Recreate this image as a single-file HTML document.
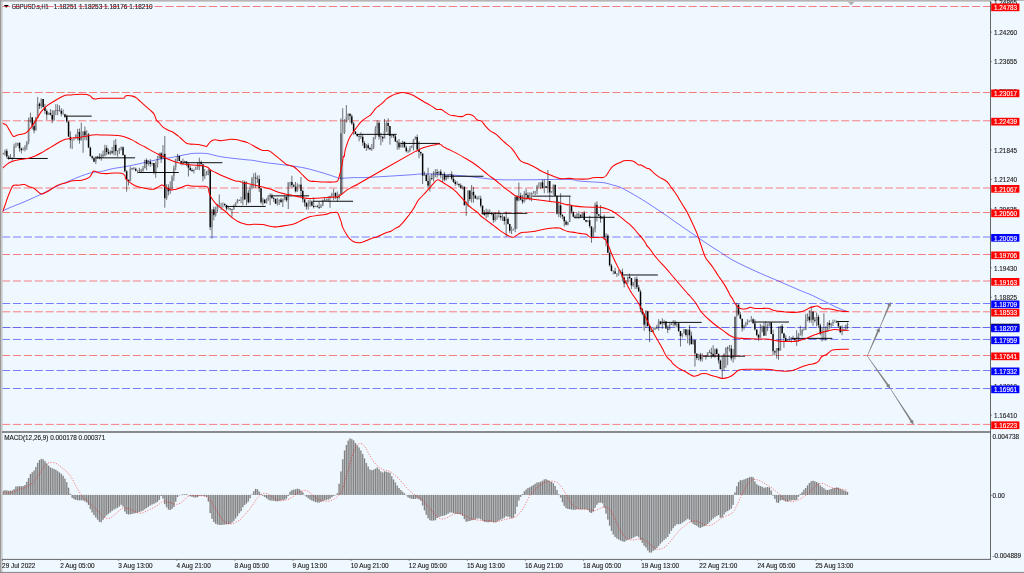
<!DOCTYPE html>
<html><head><meta charset="utf-8"><title>GBPUSD.s,H1</title>
<style>html,body{margin:0;padding:0;background:#f0f8ff;overflow:hidden}svg{display:block}</style>
</head><body>
<svg width="1024" height="573" viewBox="0 0 1024 573">
<rect x="0" y="0" width="1024" height="573" fill="#f0f8ff"/>
<path d="M3.8 4.9 L8.7 4.9 L6.25 7.8 Z" fill="#000"/>
<text x="11.7" y="8.70" font-family="Liberation Sans, Arial, sans-serif" font-size="6.5" fill="#1a1a1a" stroke="#1a1a1a" stroke-width="0.12" text-anchor="start" textLength="37" lengthAdjust="spacingAndGlyphs">GBPUSD.s,H1</text>
<text x="53.8" y="8.70" font-family="Liberation Sans, Arial, sans-serif" font-size="6.5" fill="#1a1a1a" stroke="#1a1a1a" stroke-width="0.12" text-anchor="start" textLength="98.8" lengthAdjust="spacingAndGlyphs">1.18251 1.18253 1.18176 1.18210</text>
<line x1="2.0" y1="327.45" x2="990.5" y2="327.45" stroke="#b0b0b0" stroke-width="0.5"/>
<line x1="2.0" y1="6.50" x2="990.5" y2="6.50" stroke="#ff0000" stroke-width="0.5" stroke-dasharray="8.174 2.725"/>
<line x1="2.0" y1="92.50" x2="990.5" y2="92.50" stroke="#ff0000" stroke-width="0.5" stroke-dasharray="8.174 2.725"/>
<line x1="2.0" y1="120.80" x2="990.5" y2="120.80" stroke="#ff0000" stroke-width="0.5" stroke-dasharray="8.174 2.725"/>
<line x1="2.0" y1="188.00" x2="990.5" y2="188.00" stroke="#ff0000" stroke-width="0.5" stroke-dasharray="8.174 2.725"/>
<line x1="2.0" y1="212.50" x2="990.5" y2="212.50" stroke="#ff0000" stroke-width="0.5" stroke-dasharray="8.174 2.725"/>
<line x1="2.0" y1="254.50" x2="990.5" y2="254.50" stroke="#ff0000" stroke-width="0.5" stroke-dasharray="8.174 2.725"/>
<line x1="2.0" y1="281.00" x2="990.5" y2="281.00" stroke="#ff0000" stroke-width="0.5" stroke-dasharray="8.174 2.725"/>
<line x1="2.0" y1="311.80" x2="990.5" y2="311.80" stroke="#ff0000" stroke-width="0.5" stroke-dasharray="8.174 2.725"/>
<line x1="2.0" y1="355.50" x2="990.5" y2="355.50" stroke="#ff0000" stroke-width="0.5" stroke-dasharray="8.174 2.725"/>
<line x1="2.0" y1="424.40" x2="990.5" y2="424.40" stroke="#ff0000" stroke-width="0.5" stroke-dasharray="8.174 2.725"/>
<line x1="2.0" y1="237.00" x2="990.5" y2="237.00" stroke="#0000ff" stroke-width="0.5" stroke-dasharray="8.174 2.725"/>
<line x1="2.0" y1="303.50" x2="990.5" y2="303.50" stroke="#0000ff" stroke-width="0.5" stroke-dasharray="8.174 2.725"/>
<line x1="2.0" y1="327.50" x2="990.5" y2="327.50" stroke="#0000ff" stroke-width="0.5" stroke-dasharray="8.174 2.725"/>
<line x1="2.0" y1="339.45" x2="990.5" y2="339.45" stroke="#0000ff" stroke-width="0.5" stroke-dasharray="8.174 2.725"/>
<line x1="2.0" y1="370.50" x2="990.5" y2="370.50" stroke="#0000ff" stroke-width="0.5" stroke-dasharray="8.174 2.725"/>
<line x1="2.0" y1="388.50" x2="990.5" y2="388.50" stroke="#0000ff" stroke-width="0.5" stroke-dasharray="8.174 2.725"/>
<path d="M2.51 210.93C4.19 210.20 8.79 208.10 12.56 206.53C16.33 204.96 20.94 203.29 25.13 201.51C29.31 199.73 33.50 197.84 37.69 195.85C41.88 193.87 46.90 191.25 50.25 189.57C53.60 187.90 55.28 186.96 57.79 185.80C60.30 184.65 62.40 183.92 65.33 182.66C68.26 181.41 72.03 179.63 75.38 178.27C78.73 176.91 82.50 175.48 85.43 174.50C88.36 173.51 90.45 172.84 92.96 172.36C95.48 171.88 97.15 172.24 100.50 171.61C103.85 170.98 109.82 169.28 113.07 168.59C116.31 167.91 116.75 168.05 120.00 167.49C123.25 166.93 128.38 166.06 132.56 165.23C136.75 164.39 140.94 163.40 145.13 162.46C149.31 161.52 153.50 160.37 157.69 159.57C161.88 158.78 167.11 158.21 170.25 157.69C173.39 157.16 174.44 156.85 176.53 156.43C178.63 156.01 180.72 155.59 182.81 155.18C184.91 154.76 187.00 154.23 189.10 153.92C191.19 153.61 192.65 153.38 195.38 153.29C198.10 153.21 202.91 153.25 205.43 153.42C207.94 153.58 207.94 153.75 210.45 154.30C212.96 154.84 216.73 156.01 220.50 156.68C224.27 157.35 228.48 157.77 233.07 158.32C237.65 158.86 244.77 159.62 248.02 159.95C251.26 160.28 249.71 159.87 252.56 160.30C255.41 160.74 260.94 161.93 265.13 162.56C269.31 163.19 273.50 163.55 277.69 164.07C281.88 164.59 286.06 165.12 290.25 165.70C294.44 166.29 298.63 166.75 302.81 167.59C307.00 168.43 311.19 169.58 315.38 170.73C319.56 171.88 324.59 173.45 327.94 174.50C331.29 175.54 333.38 176.38 335.48 177.01C337.57 177.64 337.57 178.16 340.50 178.27C343.43 178.37 348.48 177.78 353.07 177.64C357.65 177.49 358.53 177.85 368.02 177.39C377.50 176.93 401.33 175.44 410.00 174.87C418.67 174.31 416.91 174.14 420.05 173.99C423.19 173.85 425.52 173.93 428.84 173.99C432.17 174.06 436.05 174.23 440.00 174.40C443.95 174.57 448.38 174.75 452.56 175.03C456.75 175.30 460.94 175.61 465.13 176.03C469.31 176.45 473.50 177.04 477.69 177.54C481.88 178.04 486.06 178.67 490.25 179.05C494.44 179.42 496.53 179.67 502.81 179.80C509.10 179.92 517.07 179.86 527.94 179.80C538.81 179.74 559.53 179.22 568.02 179.42C576.50 179.62 574.95 180.59 578.84 181.01C582.74 181.42 587.22 181.59 591.41 181.88C595.59 182.18 600.41 182.24 603.97 182.76C607.53 183.29 610.04 184.27 612.76 185.03C615.49 185.78 617.58 186.13 620.30 187.29C623.02 188.44 626.16 190.32 629.10 191.93C632.03 193.55 634.75 195.08 637.89 196.96C641.03 198.84 644.59 201.08 647.94 203.24C651.29 205.40 654.85 207.81 657.99 209.90C661.13 211.99 663.85 213.77 666.78 215.80C669.72 217.84 672.04 219.61 675.58 222.09C679.12 224.56 684.27 228.05 688.02 230.63C691.76 233.20 694.69 235.23 698.04 237.54C701.39 239.84 704.76 242.25 708.09 244.45C711.42 246.65 715.59 249.16 718.02 250.73C720.44 252.29 720.21 252.28 722.66 253.84C725.11 255.41 728.94 258.03 732.71 260.13C736.48 262.22 740.67 264.21 745.28 266.41C749.88 268.61 754.91 270.91 760.35 273.32C765.80 275.72 771.87 278.24 777.94 280.85C784.01 283.47 793.26 287.50 796.78 289.02C800.31 290.54 797.64 289.42 799.07 290.00C800.50 290.58 803.05 291.57 805.35 292.51C807.65 293.45 810.38 294.50 812.89 295.65C815.40 296.80 817.91 298.21 820.43 299.42C822.94 300.64 825.45 301.68 827.96 302.94C830.48 304.20 833.20 305.87 835.50 306.96C837.81 308.05 839.90 308.74 841.78 309.47C843.67 310.21 845.97 311.04 846.81 311.36" fill="none" stroke="#0000ff" stroke-width="0.6" stroke-opacity="0.85"/>
<line x1="7.54" y1="158.47" x2="47.74" y2="158.47" stroke="#000" stroke-width="0.95"/>
<line x1="64.07" y1="116.13" x2="91.71" y2="116.13" stroke="#000" stroke-width="0.95"/>
<line x1="95.48" y1="157.84" x2="135.05" y2="157.84" stroke="#000" stroke-width="0.95"/>
<line x1="138.22" y1="172.51" x2="178.79" y2="172.51" stroke="#000" stroke-width="0.95"/>
<line x1="182.81" y1="162.71" x2="222.39" y2="162.71" stroke="#000" stroke-width="0.95"/>
<line x1="225.53" y1="206.43" x2="265.73" y2="206.43" stroke="#000" stroke-width="0.95"/>
<line x1="269.52" y1="195.85" x2="309.10" y2="195.85" stroke="#000" stroke-width="0.95"/>
<line x1="312.86" y1="201.26" x2="353.07" y2="201.26" stroke="#000" stroke-width="0.95"/>
<line x1="356.43" y1="134.37" x2="396.63" y2="134.37" stroke="#000" stroke-width="0.95"/>
<line x1="400.40" y1="143.42" x2="439.97" y2="143.42" stroke="#000" stroke-width="0.95"/>
<line x1="443.92" y1="176.26" x2="483.49" y2="176.26" stroke="#000" stroke-width="0.95"/>
<line x1="481.46" y1="213.34" x2="527.31" y2="213.34" stroke="#000" stroke-width="0.95"/>
<line x1="532.34" y1="196.13" x2="570.65" y2="196.13" stroke="#000" stroke-width="0.95"/>
<line x1="573.82" y1="217.31" x2="614.65" y2="217.31" stroke="#000" stroke-width="0.95"/>
<line x1="622.66" y1="274.97" x2="657.84" y2="274.97" stroke="#000" stroke-width="0.95"/>
<line x1="661.46" y1="322.39" x2="701.66" y2="322.39" stroke="#000" stroke-width="0.95"/>
<line x1="702.91" y1="356.18" x2="745.00" y2="356.18" stroke="#000" stroke-width="0.95"/>
<line x1="753.84" y1="322.04" x2="789.02" y2="322.04" stroke="#000" stroke-width="0.95"/>
<line x1="791.53" y1="338.37" x2="832.36" y2="338.37" stroke="#000" stroke-width="0.95"/>
<line x1="836.51" y1="321.53" x2="848.82" y2="321.53" stroke="#000" stroke-width="0.95"/>
<rect x="340.32" y="133.37" width="2.9" height="60.93" fill="#000" fill-opacity="0.3"/>
<rect x="514.63" y="196.38" width="2.9" height="32.66" fill="#000" fill-opacity="0.3"/>
<rect x="734.33" y="316.81" width="2.9" height="38.32" fill="#000" fill-opacity="0.3"/>
<path d="M3.20 152.84V153.44M3.20 153.94V154.66M5.02 149.40V150.72M5.02 153.69V155.89M6.83 148.77V150.72M6.83 156.38V158.39M8.65 155.40V156.38M8.65 157.66V159.77M10.46 154.09V157.66M10.46 158.42V158.50M12.28 158.42V160.79M14.09 143.67V146.53M14.09 157.28V157.92M15.91 142.43V145.42M15.91 146.53V147.85M17.73 145.42V146.21M19.54 142.55V142.87M19.54 148.46V151.67M21.36 147.55V148.46M21.36 150.21V153.36M23.17 147.45V149.76M23.17 150.26V150.61M24.99 145.04V146.73M24.99 149.81V151.35M26.80 140.99V142.37M26.80 146.73V149.86M28.62 117.59V119.72M28.62 142.37V144.30M32.25 117.24V117.32M32.25 126.09V129.39M35.88 116.83V117.54M35.88 130.59V130.65M39.51 102.33V103.39M39.51 106.26V109.06M41.33 98.37V98.98M41.33 106.26V108.59M44.96 103.86V106.97M44.96 111.06V113.93M46.78 109.33V111.06M46.78 114.67V119.92M48.59 112.36V112.70M48.59 114.67V114.82M50.41 109.12V112.70M50.41 114.65V115.60M54.04 110.29V110.46M54.04 119.66V121.02M59.49 105.48V110.36M59.49 110.86V111.61M61.30 108.17V110.66M61.30 113.66V116.40M63.12 109.48V113.64M63.12 114.14V114.37M64.93 113.71V114.13M64.93 116.51V117.90M66.75 114.67V116.51M66.75 121.51V122.89M68.57 121.34V121.51M74.01 137.51V138.48M74.01 139.26V140.71M75.83 134.55V134.61M75.83 138.48V138.58M79.46 128.44V131.77M79.46 140.60V143.73M88.54 132.89V134.33M88.54 147.46V148.16M90.35 146.58V147.46M90.35 156.25V156.53M92.17 155.42V156.25M92.17 158.04V159.45M93.99 156.64V158.04M93.99 161.67V162.27M95.80 156.35V156.59M95.80 161.67V164.05M97.62 155.87V156.59M97.62 157.27V159.07M99.43 153.27V157.27M99.43 158.13V159.26M101.25 153.58V154.65M101.25 158.13V160.74M103.06 150.58V154.65M103.06 155.50V157.96M104.88 144.72V147.76M104.88 155.50V156.47M108.51 148.73V151.91M108.51 153.63V154.64M110.33 150.36V151.37M110.33 153.63V154.92M112.14 147.01V151.37M112.14 152.86V154.24M117.59 150.37V150.74M117.59 151.24V156.70M119.40 147.71V147.90M119.40 151.09V154.00M121.22 146.56V147.37M121.22 147.90V150.32M123.04 146.41V147.37M123.04 155.07V155.81M124.85 154.35V155.07M124.85 171.13V172.29M128.48 179.22V180.03M128.48 181.23V185.51M130.30 166.59V168.78M132.11 167.78V168.62M132.11 169.12V170.13M133.93 167.07V168.61M133.93 169.11V170.10M135.75 167.51V168.76M135.75 170.80V171.60M137.56 170.25V170.39M137.56 170.89V173.48M139.38 167.80V170.33M139.38 170.83V173.00M141.19 168.91V170.67M141.19 171.17V172.25M143.01 165.96V167.89M143.01 171.15V171.44M144.82 159.55V159.93M144.82 167.89V168.50M148.46 160.18V161.84M148.46 163.92V165.60M150.27 159.11V161.84M150.27 164.10V167.00M152.09 162.67V163.01M152.09 164.10V165.65M153.90 172.36V174.38M157.53 156.10V158.46M157.53 164.22V167.53M159.35 152.71V153.22M159.35 158.46V158.53M161.17 152.15V153.22M161.17 158.78V162.90M166.61 184.28V187.63M166.61 198.27V199.92M168.43 184.33V187.63M168.43 191.21V195.43M172.06 175.23V176.61M172.06 188.25V190.26M173.88 165.56V167.53M173.88 176.61V180.94M175.69 158.61V159.12M175.69 167.53V170.37M179.32 155.41V155.95M179.32 161.05V161.23M181.14 160.76V161.05M181.14 163.83V165.25M182.95 158.58V161.11M182.95 163.83V165.22M184.77 160.57V160.92M184.77 161.42V162.40M186.59 163.41V166.25M190.22 165.47V167.68M190.22 169.96V171.00M192.03 168.24V169.96M192.03 170.91V171.90M193.85 169.34V169.79M193.85 170.91V173.59M195.66 166.84V168.53M195.66 169.79V169.90M197.48 162.35V167.25M197.48 168.53V169.76M201.11 160.66V162.11M201.11 164.32V164.55M202.93 164.23V164.32M202.93 176.21V181.30M206.56 171.03V173.36M206.56 175.12V175.44M208.37 169.05V170.00M208.37 173.36V175.22M210.19 169.86V170.00M210.19 227.16V230.13M215.64 206.73V209.39M215.64 215.24V216.69M217.45 203.88V205.02M217.45 209.39V212.78M221.08 202.82V204.29M221.08 204.80V209.88M222.90 202.29V203.69M222.90 204.29V207.72M224.72 203.52V203.69M224.72 204.90V206.31M226.53 204.79V204.90M226.53 208.81V210.48M228.35 206.14V208.37M228.35 208.87V209.57M230.16 207.89V208.43M230.16 209.31V210.62M233.79 204.44V205.51M233.79 209.47V209.82M235.61 202.07V203.15M235.61 205.51V206.37M237.43 198.92V200.01M237.43 203.15V203.33M239.24 199.25V199.92M239.24 200.42V200.65M241.06 196.69V200.04M241.06 200.54V203.20M248.32 189.80V192.85M248.32 202.22V203.52M250.14 185.15V188.04M250.14 202.22V202.81M251.95 176.95V178.35M251.95 188.04V189.38M257.40 175.47V178.44M257.40 178.94V182.95M259.21 175.26V178.94M259.21 188.33V191.95M261.03 187.84V188.33M261.03 202.13V203.94M262.85 197.83V199.45M262.85 202.13V205.48M264.66 198.87V199.45M264.66 203.26V203.52M266.48 198.30V200.20M266.48 203.26V203.58M268.29 194.98V196.13M268.29 200.20V200.84M271.92 193.61V195.63M271.92 198.16V198.55M273.74 196.87V198.16M273.74 198.90V202.06M275.56 198.38V198.90M275.56 203.78V203.91M277.37 197.68V201.84M277.37 203.78V205.50M279.19 199.26V199.41M279.19 201.84V205.15M281.00 197.95V199.41M281.00 202.06V203.14M282.82 198.56V199.26M282.82 202.06V207.04M284.63 195.61V196.77M284.63 199.26V200.31M286.45 196.40V196.77M286.45 200.15V201.86M290.08 181.78V181.94M290.08 182.44V186.89M293.71 183.84V185.29M293.71 186.87V187.09M295.53 181.92V186.87M295.53 191.61V192.38M297.34 183.24V185.14M297.34 191.61V192.17M299.16 185.14V187.26M302.79 189.62V191.10M302.79 199.14V202.43M304.61 198.87V199.14M304.61 202.84V206.55M306.42 202.45V202.84M306.42 206.85V209.56M310.05 199.31V201.56M310.05 204.08V206.75M311.87 200.40V201.56M311.87 205.76V206.40M315.50 205.82V206.30M315.50 206.93V207.14M317.32 204.63V206.30M317.32 207.02V207.59M320.95 204.16V205.72M320.95 207.72V207.84M322.76 199.57V200.35M322.76 205.72V206.18M324.58 197.02V200.17M326.39 198.80V200.18M326.39 200.68V201.16M328.21 196.15V198.56M328.21 200.39V201.78M331.84 192.66V194.35M331.84 195.67V198.09M335.47 192.24V192.94M335.47 196.65V199.14M339.10 193.82V194.30M339.10 197.96V199.39M344.55 119.21V120.14M344.55 132.18V133.97M348.18 113.36V113.78M348.18 116.50V120.11M351.81 114.51V116.33M351.81 123.51V124.87M353.63 121.90V123.51M353.63 131.49V134.97M355.45 131.00V131.49M355.45 134.03V134.32M357.26 133.75V134.03M357.26 135.90V136.87M359.08 133.89V135.88M359.08 136.38V141.37M360.89 132.31V136.30M360.89 136.80V139.11M362.71 133.97V136.75M362.71 142.78V145.67M364.52 141.31V142.78M364.52 148.11V148.60M368.16 143.23V145.35M368.16 147.89V149.55M369.97 146.86V147.89M369.97 149.19V150.15M373.60 137.06V137.49M373.60 147.71V149.18M375.42 126.19V128.54M375.42 137.49V139.19M379.05 121.25V122.66M379.05 136.81V139.47M382.68 135.91V136.94M382.68 138.47V141.88M386.31 121.27V122.88M386.31 130.97V132.17M391.76 134.28V134.97M391.76 135.93V137.86M393.58 134.61V134.97M393.58 136.29V137.96M395.39 134.63V136.29M395.39 141.47V141.97M399.02 138.93V142.39M399.02 147.58V149.58M400.84 142.57V144.47M402.65 140.77V141.83M402.65 144.47V147.52M404.47 141.76V141.83M404.47 147.40V147.61M406.29 145.69V147.40M406.29 151.17V152.38M408.10 149.65V150.52M408.10 151.17V153.01M409.92 146.01V147.66M409.92 150.52V152.02M411.73 145.37V145.55M411.73 147.66V147.96M415.36 136.38V137.11M415.36 139.36V139.83M420.81 151.44V151.94M420.81 153.52V155.90M424.44 171.47V175.08M424.44 175.86V176.07M426.26 173.78V175.08M426.26 181.01V181.29M431.71 173.60V177.91M431.71 178.65V180.15M433.52 171.28V174.58M433.52 178.65V181.45M435.34 169.20V171.92M435.34 174.58V177.14M438.97 171.14V171.49M438.97 173.62V175.63M440.78 169.35V171.49M440.78 175.27V178.36M444.42 171.83V173.78M444.42 179.86V181.29M446.23 174.93V175.69M446.23 179.86V180.55M448.05 174.43V174.49M448.05 175.69V178.90M449.86 173.72V174.18M449.86 174.68V175.03M451.68 171.26V174.37M451.68 178.76V180.04M453.49 175.05V178.76M453.49 182.10V183.00M455.31 180.10V182.10M455.31 184.09V185.91M457.12 181.09V183.76M457.12 184.26V185.13M458.94 183.21V183.94M458.94 185.35V187.31M460.76 183.52V185.35M460.76 187.71V188.76M462.57 185.51V186.69M462.57 187.71V189.54M464.39 186.29V186.69M464.39 205.27V205.44M468.02 190.25V190.57M468.02 203.68V207.06M469.83 190.15V190.57M469.83 198.93V201.11M475.28 194.71V195.50M475.28 198.56V198.93M477.10 196.17V198.40M477.10 198.90V199.76M478.91 195.65V198.40M478.91 198.90V199.62M480.73 195.73V198.55M480.73 205.80V207.41M482.54 205.39V205.80M482.54 212.40V214.76M484.36 210.17V212.40M484.36 214.99V215.78M486.18 208.62V212.16M486.18 214.99V218.40M487.99 209.57V212.16M487.99 214.22V217.20M489.81 209.36V212.61M489.81 214.22V214.30M491.62 212.08V212.61M491.62 214.08V215.28M495.25 212.27V216.56M495.25 220.30V221.50M497.07 214.47V216.26M497.07 216.76V219.80M500.70 213.99V215.98M500.70 217.51V220.22M502.52 214.50V216.81M502.52 217.51V221.09M504.33 216.24V216.81M504.33 221.05V224.68M507.96 217.45V218.65M507.96 223.94V224.60M509.78 223.75V223.94M509.78 230.66V233.02M513.41 228.53V229.02M513.41 229.52V230.60M517.04 195.42V196.38M517.04 200.49V201.23M520.67 192.72V195.52M520.67 199.74V200.28M524.31 191.06V193.54M524.31 201.73V202.63M527.94 192.28V195.10M527.94 198.15V198.28M529.75 192.36V195.18M529.75 198.15V200.36M531.57 192.43V192.99M531.57 195.18V201.25M533.38 190.99V192.66M533.38 193.16V194.04M535.20 191.10V191.29M535.20 192.83V194.98M537.02 184.81V186.27M537.02 191.29V194.25M538.83 182.41V185.94M538.83 186.44V187.55M540.65 182.13V182.19M540.65 186.11V188.97M542.46 179.55V182.19M542.46 188.03V188.30M546.09 185.80V186.33M551.54 191.15V191.99M551.54 192.57V193.22M553.36 184.37V184.78M553.36 191.99V194.87M555.17 184.64V184.78M556.99 195.47V196.05M556.99 213.74V214.49M562.44 214.09V214.88M562.44 216.50V219.18M566.07 220.08V221.45M566.07 224.72V225.30M567.88 221.58V222.11M567.88 224.72V225.45M571.51 205.06V205.47M571.51 211.70V213.69M573.33 216.81V217.11M575.15 214.74V216.31M575.15 216.81V218.84M576.96 212.57V214.27M576.96 216.32V218.65M580.59 214.67V214.82M580.59 216.75V218.25M582.41 212.40V212.89M582.41 216.75V217.09M584.22 210.89V212.89M584.22 219.90V220.30M586.04 219.85V219.90M586.04 221.79V222.48M587.86 220.24V220.30M587.86 221.79V222.10M589.67 215.78V220.30M589.67 226.36V227.86M593.30 227.71V229.56M593.30 236.85V238.35M595.12 202.49V204.80M595.12 229.56V232.41M598.75 214.02V214.22M598.75 215.82V216.42M602.38 218.80V219.02M604.20 214.58V216.43M604.20 237.16V239.90M607.83 234.04V235.41M607.83 252.65V253.08M609.64 251.51V252.65M609.64 265.60V266.50M611.46 263.85V265.60M611.46 270.93V271.37M613.28 271.34V274.43M616.91 273.42V273.67M616.91 274.37V276.90M618.72 269.94V273.18M618.72 274.37V275.75M620.54 270.30V271.86M620.54 273.18V273.41M622.35 268.61V271.86M622.35 277.49V281.52M624.17 276.64V277.49M624.17 283.42V287.45M625.99 280.21V281.76M625.99 283.42V283.57M629.62 273.64V276.76M629.62 278.01V279.14M633.25 281.90V282.60M633.25 285.41V286.71M638.70 284.98V287.21M638.70 291.44V291.74M640.51 289.79V291.44M640.51 309.33V311.95M642.33 307.99V309.33M642.33 313.80V315.47M647.77 310.75V311.33M647.77 326.02V326.58M651.40 330.25V331.18M651.40 331.94V332.10M653.22 327.78V329.44M653.22 331.94V332.74M655.04 327.48V327.79M655.04 329.44V329.82M656.85 324.81V327.78M656.85 328.28V329.07M658.67 319.15V321.21M658.67 328.27V330.57M660.48 321.15V321.21M660.48 323.90V324.63M664.11 319.86V321.38M664.11 321.88V325.25M665.93 320.89V321.46M665.93 328.50V328.96M667.75 325.50V328.50M667.75 329.79V333.06M669.56 323.29V324.18M669.56 329.79V330.11M671.38 322.85V323.11M671.38 324.18V325.12M676.82 321.91V323.19M676.82 324.64V327.16M678.64 322.98V323.19M678.64 331.07V331.96M682.27 333.07V333.56M682.27 335.97V337.66M684.09 328.97V329.34M684.09 333.56V333.75M685.90 329.27V329.34M685.90 334.93V336.56M691.35 331.70V335.61M691.35 344.19V344.29M693.17 339.60V339.97M693.17 344.19V344.53M696.80 353.13V353.40M696.80 358.08V359.91M698.61 353.83V354.53M698.61 358.08V360.46M702.24 353.48V356.59M702.24 359.55V361.55M704.06 356.59V356.68M705.88 354.88V355.89M705.88 356.39V359.62M707.69 352.18V352.37M709.51 349.83V352.15M709.51 352.65V352.79M714.95 348.60V349.36M714.95 356.42V357.78M716.77 347.83V349.36M716.77 353.89V354.46M718.59 353.21V353.89M718.59 360.58V363.60M720.40 359.61V360.58M724.03 353.31V354.04M724.03 367.97V370.97M729.48 344.95V348.27M729.48 348.77V351.36M731.30 344.92V348.51M731.30 358.48V360.63M734.93 316.45V316.81M734.93 355.13V359.41M736.74 302.72V304.67M738.56 303.58V304.67M738.56 314.46V315.43M740.37 312.07V314.46M740.37 318.72V319.31M742.19 318.62V318.72M742.19 328.23V331.57M744.01 324.72V325.85M744.01 328.23V329.70M745.82 321.91V322.45M745.82 325.85V326.88M747.64 319.20V320.82M747.64 322.45V324.90M749.45 320.50V320.56M749.45 321.06V322.28M751.27 316.01V319.20M751.27 320.80V322.09M753.08 318.29V319.20M753.08 323.34V323.84M754.90 319.30V323.34M754.90 329.54V330.52M756.72 329.44V329.54M756.72 334.90V336.20M758.53 333.91V334.90M758.53 337.85V340.81M762.16 325.37V326.21M762.16 331.14V332.39M767.61 323.53V325.56M767.61 326.20V331.24M769.43 322.49V322.61M769.43 325.56V326.47M771.24 321.71V322.61M771.24 333.92V334.13M773.06 329.63V333.92M773.06 351.35V355.17M774.87 350.44V351.35M774.87 352.42V355.55M782.14 324.00V325.97M782.14 333.33V333.76M785.77 335.25V338.08M787.58 338.98V340.06M787.58 341.22V341.47M789.40 336.18V337.80M789.40 340.06V341.30M791.21 337.50V337.75M791.21 338.25V342.61M793.03 335.72V338.09M793.03 338.59V339.70M794.85 339.90V341.99M798.48 333.08V335.60M798.48 339.52V341.88M802.11 328.88V330.10M802.11 333.98V336.57M803.92 328.11V329.77M803.92 330.27V330.76M807.56 313.50V316.55M807.56 319.49V321.18M814.82 317.20V319.73M814.82 320.85V322.47M818.45 314.72V316.68M818.45 325.31V328.18M820.27 323.54V325.31M820.27 333.80V335.29M827.53 322.11V323.02M827.53 331.73V331.84M831.16 322.74V323.23M831.16 324.98V327.33M832.97 319.71V322.12M832.97 323.23V326.11M834.79 319.64V321.67M834.79 322.17V322.45M836.61 320.43V321.73M836.61 322.44V322.88M838.42 321.64V322.44M838.42 326.17V328.00M840.24 326.09V326.17M840.24 332.29V333.31M843.87 328.73V330.23M843.87 330.73V331.29M845.68 324.68V324.94M845.68 330.30V330.49" fill="none" stroke="#000" stroke-width="0.55"/>
<path d="M30.44 112.61V117.32M30.44 119.72V122.66M34.07 120.15V126.09M34.07 130.59V133.34M37.70 96.91V103.39M43.15 106.97V107.59M52.22 110.10V114.65M52.22 119.66V123.29M55.86 104.07V110.23M55.86 110.73V115.13M57.67 104.45V110.29M57.67 110.79V115.13M70.38 131.46V136.75M70.38 140.26V148.42M72.20 140.26V149.05M77.64 128.94V131.77M77.64 134.61V140.25M81.28 122.66V137.34M83.09 137.34V152.81M84.91 126.43V131.17M84.91 135.58V140.25M86.72 130.20V134.33M86.72 135.58V140.25M106.69 145.28V147.76M106.69 151.91V155.33M113.96 140.25V144.79M113.96 152.86V155.33M115.77 138.99V144.79M115.77 150.90V155.33M126.67 170.25V171.13M126.67 180.03V191.61M146.64 158.32V159.93M146.64 163.92V170.25M155.72 161.46V164.22M155.72 172.36V177.79M162.98 145.13V153.67M164.80 136.08V153.67M164.80 198.27V207.69M170.24 181.31V188.25M170.24 191.21V193.87M177.51 153.92V155.95M177.51 159.12V161.46M188.40 162.71V163.41M188.40 167.68V176.53M199.30 157.69V162.11M199.30 167.25V170.25M204.74 168.99V175.12M204.74 176.21V179.05M212.01 227.16V238.47M213.82 206.43V209.21M213.82 215.24V220.25M219.27 194.50V204.66M219.27 205.16V207.69M231.98 208.94V209.14M231.98 209.64V216.48M242.87 180.15V182.04M242.87 200.25V205.28M244.69 180.68V182.04M244.69 199.62V200.15M246.50 181.41V192.85M246.50 199.62V205.28M253.77 173.24V177.59M253.77 178.35V187.69M255.58 172.61V177.59M255.58 178.44V187.69M270.11 193.34V195.63M270.11 196.13V205.28M288.26 200.15V209.05M291.90 175.75V182.12M291.90 185.29V187.69M300.97 177.01V184.46M300.97 191.10V197.74M308.24 200.25V204.08M308.24 206.85V209.67M313.68 197.74V205.76M313.68 206.93V208.42M319.13 201.51V207.02M319.13 207.72V209.05M330.03 198.56V207.79M333.66 188.94V192.94M333.66 194.35V200.25M337.29 191.46V196.65M337.29 197.96V201.51M340.92 118.29V133.37M342.74 108.24V132.18M346.37 105.10V116.50M346.37 120.14V122.69M350.00 113.27V113.78M350.00 116.33V122.69M366.34 144.05V145.35M366.34 148.11V150.95M371.79 144.05V147.71M371.79 149.19V150.95M377.23 120.18V122.66M377.23 128.54V135.25M380.87 132.74V136.62M380.87 137.12V145.30M384.50 118.92V130.97M388.13 118.29V122.88M388.13 125.96V135.25M389.94 135.93V144.67M397.21 140.28V141.47M397.21 142.39V149.70M413.55 139.02V139.36M413.55 145.55V150.33M417.18 134.62V137.11M417.18 149.50V150.33M419.00 141.33V149.50M419.00 151.94V158.29M422.63 175.86V184.05M428.07 167.71V181.01M428.07 185.72V187.81M429.89 175.25V177.91M429.89 185.72V191.58M437.15 168.97V171.92M437.15 173.62V177.76M442.60 175.27V181.93M466.20 201.41V203.68M466.20 205.27V215.85M471.65 185.08V191.65M471.65 198.93V202.66M473.47 186.96V191.65M473.47 195.50V202.66M493.44 213.97V214.08M493.44 220.30V222.76M498.89 210.20V215.97M498.89 216.47V217.74M506.15 211.46V218.65M506.15 221.05V236.58M511.60 226.53V229.49M511.60 230.66V234.07M515.23 229.05V232.19M518.86 182.56V195.52M518.86 200.49V201.41M522.49 195.13V199.74M522.49 201.73V203.92M526.12 188.84V193.54M526.12 195.10V200.15M544.28 179.42V186.33M544.28 188.03V193.24M547.91 170.00V180.97M547.91 188.06V193.24M549.73 192.57V202.04M558.80 201.41V205.33M558.80 213.74V217.11M560.62 193.24V205.33M560.62 214.88V217.74M564.25 221.45V226.53M569.70 196.33V205.47M578.78 211.41V214.27M578.78 214.82V218.94M591.49 236.85V242.81M596.93 201.36V204.80M596.93 214.22V221.46M600.57 205.13V215.82M600.57 218.80V222.71M606.01 233.14V235.41M606.01 237.16V246.33M615.09 267.69V271.26M615.09 273.67V273.97M627.80 276.48V276.76M627.80 281.76V284.02M631.43 285.41V289.05M635.06 277.11V279.01M635.06 282.60V289.05M636.88 276.48V279.01M636.88 287.21V289.05M644.14 324.73V330.80M645.96 310.08V311.33M645.96 324.73V327.66M649.59 331.18V342.11M662.30 318.24V321.80M662.30 323.90V328.92M673.19 320.13V322.56M673.19 323.11V326.41M675.01 320.13V322.56M675.01 324.64V326.41M680.46 335.97V346.51M687.72 334.93V343.37M689.53 325.15V329.59M689.53 335.61V345.25M694.98 353.40V366.61M700.43 352.79V354.53M700.43 359.55V361.58M711.32 347.76V352.44M711.32 353.75V358.44M713.14 345.25V353.75M722.22 356.38V367.97M722.22 369.22V378.37M725.85 347.59V347.86M725.85 354.04V367.69M727.66 346.33V347.86M727.66 348.53V365.18M733.11 348.84V355.13M733.11 358.48V362.66M760.35 323.92V331.14M763.98 322.66V326.21M765.79 321.41V326.20M776.69 352.42V358.47M778.50 326.43V347.93M778.50 350.73V359.72M780.32 325.80V325.97M783.95 338.08V347.79M796.66 330.20V339.46M796.66 339.96V345.90M800.29 325.80V333.98M805.74 313.87V319.49M809.37 310.10V316.55M809.37 320.61V322.66M811.19 306.33V311.39M811.19 320.61V322.66M813.00 319.73V325.80M816.63 312.61V316.68M816.63 320.85V326.43M822.08 327.69V331.19M822.08 333.80V341.51M823.90 313.24V330.64M823.90 331.19V340.25M825.71 326.43V330.64M825.71 331.73V340.88M829.34 320.15V323.02M829.34 324.98V328.94M842.05 325.18V330.67M842.05 332.29V335.23M847.50 322.66V323.83M847.50 324.94V328.94" fill="none" stroke="#000" stroke-opacity="0.55" stroke-width="1.0"/>
<path d="M5.02 150.72V153.69M12.28 157.28V158.42M14.09 146.53V157.28M15.91 145.42V146.53M17.73 142.87V145.42M23.17 149.76V150.26M24.99 146.73V149.81M26.80 142.37V146.73M28.62 119.72V142.37M30.44 117.32V119.72M35.88 117.54V130.59M37.70 103.39V117.54M41.33 98.98V106.26M48.59 112.70V114.67M54.04 110.46V119.66M72.20 139.26V140.26M74.01 138.48V139.26M75.83 134.61V138.48M77.64 131.77V134.61M81.28 137.34V140.60M83.09 131.17V137.34M86.72 134.33V135.58M95.80 156.59V161.67M101.25 154.65V158.13M104.88 147.76V155.50M110.33 151.37V153.63M113.96 144.79V152.86M119.40 147.90V151.09M121.22 147.37V147.90M130.30 168.78V181.23M133.93 168.61V169.11M137.56 170.39V170.89M143.01 167.89V171.15M144.82 159.93V167.89M148.46 161.84V163.92M152.09 163.01V164.10M155.72 164.22V172.36M157.53 158.46V164.22M159.35 153.22V158.46M162.98 153.67V158.78M166.61 187.63V198.27M170.24 188.25V191.21M172.06 176.61V188.25M173.88 167.53V176.61M175.69 159.12V167.53M177.51 155.95V159.12M182.95 161.11V163.83M193.85 169.79V170.91M195.66 168.53V169.79M197.48 167.25V168.53M199.30 162.11V167.25M204.74 175.12V176.21M206.56 173.36V175.12M208.37 170.00V173.36M212.01 209.21V227.16M215.64 209.39V215.24M217.45 205.02V209.39M219.27 204.66V205.16M221.08 204.29V204.80M222.90 203.69V204.29M228.35 208.37V208.87M233.79 205.51V209.47M235.61 203.15V205.51M237.43 200.01V203.15M241.06 200.04V200.54M242.87 182.04V200.25M246.50 192.85V199.62M250.14 188.04V202.22M251.95 178.35V188.04M253.77 177.59V178.35M262.85 199.45V202.13M266.48 200.20V203.26M268.29 196.13V200.20M270.11 195.63V196.13M277.37 201.84V203.78M279.19 199.41V201.84M282.82 199.26V202.06M284.63 196.77V199.26M288.26 182.27V200.15M290.08 181.94V182.44M297.34 185.14V191.61M299.16 184.46V185.14M308.24 204.08V206.85M310.05 201.56V204.08M315.50 206.30V206.93M320.95 205.72V207.72M322.76 200.35V205.72M326.39 200.18V200.68M328.21 198.56V200.39M330.03 195.67V198.56M331.84 194.35V195.67M333.66 192.94V194.35M339.10 194.30V197.96M340.92 133.37V194.30M342.74 132.18V133.37M344.55 120.14V132.18M346.37 116.50V120.14M348.18 113.78V116.50M366.34 145.35V148.11M371.79 147.71V149.19M373.60 137.49V147.71M375.42 128.54V137.49M377.23 122.66V128.54M384.50 130.97V138.47M386.31 122.88V130.97M391.76 134.97V135.93M400.84 144.47V147.58M402.65 141.83V144.47M408.10 150.52V151.17M409.92 147.66V150.52M411.73 145.55V147.66M413.55 139.36V145.55M415.36 137.11V139.36M424.44 175.08V175.86M429.89 177.91V185.72M433.52 174.58V178.65M435.34 171.92V174.58M438.97 171.49V173.62M442.60 173.78V175.27M446.23 175.69V179.86M448.05 174.49V175.69M449.86 174.18V174.68M457.12 183.76V184.26M462.57 186.69V187.71M466.20 203.68V205.27M468.02 190.57V203.68M471.65 191.65V198.93M478.91 198.40V198.90M486.18 212.16V214.99M489.81 212.61V214.22M495.25 216.56V220.30M497.07 216.26V216.76M498.89 215.97V216.47M502.52 216.81V217.51M506.15 218.65V221.05M511.60 229.49V230.66M513.41 229.02V229.52M515.23 196.38V229.05M518.86 195.52V200.49M524.31 193.54V201.73M529.75 195.18V198.15M531.57 192.99V195.18M533.38 192.66V193.16M535.20 191.29V192.83M537.02 186.27V191.29M538.83 185.94V186.44M540.65 182.19V186.11M544.28 186.33V188.03M547.91 180.97V188.06M551.54 191.99V192.57M553.36 184.78V191.99M558.80 205.33V213.74M567.88 222.11V224.72M569.70 205.47V222.11M575.15 216.31V216.81M576.96 214.27V216.32M582.41 212.89V216.75M587.86 220.30V221.79M593.30 229.56V236.85M595.12 204.80V229.56M602.38 216.43V218.80M606.01 235.41V237.16M618.72 273.18V274.37M620.54 271.86V273.18M625.99 281.76V283.42M627.80 276.76V281.76M633.25 282.60V285.41M635.06 279.01V282.60M645.96 311.33V324.73M653.22 329.44V331.94M655.04 327.79V329.44M658.67 321.21V328.27M662.30 321.80V323.90M664.11 321.38V321.88M669.56 324.18V329.79M671.38 323.11V324.18M673.19 322.56V323.11M676.82 323.19V324.64M682.27 333.56V335.97M684.09 329.34V333.56M687.72 329.59V334.93M693.17 339.97V344.19M698.61 354.53V358.08M702.24 356.59V359.55M704.06 355.94V356.59M707.69 352.37V356.33M714.95 349.36V356.42M722.22 367.97V369.22M724.03 354.04V367.97M725.85 347.86V354.04M729.48 348.27V348.77M733.11 355.13V358.48M734.93 316.81V355.13M736.74 304.67V316.81M744.01 325.85V328.23M745.82 322.45V325.85M747.64 320.82V322.45M749.45 320.56V321.06M751.27 319.20V320.80M760.35 331.14V337.85M762.16 326.21V331.14M765.79 326.20V335.74M767.61 325.56V326.20M769.43 322.61V325.56M776.69 347.93V352.42M780.32 325.97V350.73M787.58 340.06V341.22M789.40 337.80V340.06M796.66 339.46V339.96M798.48 335.60V339.52M800.29 333.98V335.60M802.11 330.10V333.98M803.92 329.77V330.27M805.74 319.49V329.93M807.56 316.55V319.49M811.19 311.39V320.61M816.63 316.68V320.85M822.08 331.19V333.80M823.90 330.64V331.19M827.53 323.02V331.73M831.16 323.23V324.98M832.97 322.12V323.23M834.79 321.67V322.17M842.05 330.67V332.29M843.87 330.23V330.73M845.68 324.94V330.30M847.50 323.83V324.94" fill="none" stroke="#000" stroke-opacity="0.46" stroke-width="1.75"/>
<path d="M3.20 153.44V153.94M6.83 150.72V156.38M8.65 156.38V157.66M10.46 157.66V158.42M19.54 142.87V148.46M21.36 148.46V150.21M32.25 117.32V126.09M34.07 126.09V130.59M39.51 103.39V106.26M43.15 98.98V106.97M44.96 106.97V111.06M46.78 111.06V114.67M50.41 112.70V114.65M52.22 114.65V119.66M55.86 110.23V110.73M57.67 110.29V110.79M59.49 110.36V110.86M61.30 110.66V113.66M63.12 113.64V114.14M64.93 114.13V116.51M66.75 116.51V121.51M68.57 121.51V136.75M70.38 136.75V140.26M79.46 131.77V140.60M84.91 131.17V135.58M88.54 134.33V147.46M90.35 147.46V156.25M92.17 156.25V158.04M93.99 158.04V161.67M97.62 156.59V157.27M99.43 157.27V158.13M103.06 154.65V155.50M106.69 147.76V151.91M108.51 151.91V153.63M112.14 151.37V152.86M115.77 144.79V150.90M117.59 150.74V151.24M123.04 147.37V155.07M124.85 155.07V171.13M126.67 171.13V180.03M128.48 180.03V181.23M132.11 168.62V169.12M135.75 168.76V170.80M139.38 170.33V170.83M141.19 170.67V171.17M146.64 159.93V163.92M150.27 161.84V164.10M153.90 163.01V172.36M161.17 153.22V158.78M164.80 153.67V198.27M168.43 187.63V191.21M179.32 155.95V161.05M181.14 161.05V163.83M184.77 160.92V161.42M186.59 161.22V163.41M188.40 163.41V167.68M190.22 167.68V169.96M192.03 169.96V170.91M201.11 162.11V164.32M202.93 164.32V176.21M210.19 170.00V227.16M213.82 209.21V215.24M224.72 203.69V204.90M226.53 204.90V208.81M230.16 208.43V209.31M231.98 209.14V209.64M239.24 199.92V200.42M244.69 182.04V199.62M248.32 192.85V202.22M255.58 177.59V178.44M257.40 178.44V178.94M259.21 178.94V188.33M261.03 188.33V202.13M264.66 199.45V203.26M271.92 195.63V198.16M273.74 198.16V198.90M275.56 198.90V203.78M281.00 199.41V202.06M286.45 196.77V200.15M291.90 182.12V185.29M293.71 185.29V186.87M295.53 186.87V191.61M300.97 184.46V191.10M302.79 191.10V199.14M304.61 199.14V202.84M306.42 202.84V206.85M311.87 201.56V205.76M313.68 205.76V206.93M317.32 206.30V207.02M319.13 207.02V207.72M324.58 200.17V200.67M335.47 192.94V196.65M337.29 196.65V197.96M350.00 113.78V116.33M351.81 116.33V123.51M353.63 123.51V131.49M355.45 131.49V134.03M357.26 134.03V135.90M359.08 135.88V136.38M360.89 136.30V136.80M362.71 136.75V142.78M364.52 142.78V148.11M368.16 145.35V147.89M369.97 147.89V149.19M379.05 122.66V136.81M380.87 136.62V137.12M382.68 136.94V138.47M388.13 122.88V125.96M389.94 125.96V135.93M393.58 134.97V136.29M395.39 136.29V141.47M397.21 141.47V142.39M399.02 142.39V147.58M404.47 141.83V147.40M406.29 147.40V151.17M417.18 137.11V149.50M419.00 149.50V151.94M420.81 151.94V153.52M422.63 153.52V175.86M426.26 175.08V181.01M428.07 181.01V185.72M431.71 177.91V178.65M437.15 171.92V173.62M440.78 171.49V175.27M444.42 173.78V179.86M451.68 174.37V178.76M453.49 178.76V182.10M455.31 182.10V184.09M458.94 183.94V185.35M460.76 185.35V187.71M464.39 186.69V205.27M469.83 190.57V198.93M473.47 191.65V195.50M475.28 195.50V198.56M477.10 198.40V198.90M480.73 198.55V205.80M482.54 205.80V212.40M484.36 212.40V214.99M487.99 212.16V214.22M491.62 212.61V214.08M493.44 214.08V220.30M500.70 215.98V217.51M504.33 216.81V221.05M507.96 218.65V223.94M509.78 223.94V230.66M517.04 196.38V200.49M520.67 195.52V199.74M522.49 199.74V201.73M526.12 193.54V195.10M527.94 195.10V198.15M542.46 182.19V188.03M546.09 186.33V188.06M549.73 180.97V192.57M555.17 184.78V196.05M556.99 196.05V213.74M560.62 205.33V214.88M562.44 214.88V216.50M564.25 216.50V221.45M566.07 221.45V224.72M571.51 205.47V211.70M573.33 211.70V216.81M578.78 214.27V214.82M580.59 214.82V216.75M584.22 212.89V219.90M586.04 219.90V221.79M589.67 220.30V226.36M591.49 226.36V236.85M596.93 204.80V214.22M598.75 214.22V215.82M600.57 215.82V218.80M604.20 216.43V237.16M607.83 235.41V252.65M609.64 252.65V265.60M611.46 265.60V270.93M613.28 270.84V271.34M615.09 271.26V273.67M616.91 273.67V274.37M622.35 271.86V277.49M624.17 277.49V283.42M629.62 276.76V278.01M631.43 278.01V285.41M636.88 279.01V287.21M638.70 287.21V291.44M640.51 291.44V309.33M642.33 309.33V313.80M644.14 313.80V324.73M647.77 311.33V326.02M649.59 326.02V331.18M651.40 331.18V331.94M656.85 327.78V328.28M660.48 321.21V323.90M665.93 321.46V328.50M667.75 328.50V329.79M675.01 322.56V324.64M678.64 323.19V331.07M680.46 331.07V335.97M685.90 329.34V334.93M689.53 329.59V335.61M691.35 335.61V344.19M694.98 339.97V353.40M696.80 353.40V358.08M700.43 354.53V359.55M705.88 355.89V356.39M709.51 352.15V352.65M711.32 352.44V353.75M713.14 353.75V356.42M716.77 349.36V353.89M718.59 353.89V360.58M720.40 360.58V369.22M727.66 347.86V348.53M731.30 348.51V358.48M738.56 304.67V314.46M740.37 314.46V318.72M742.19 318.72V328.23M753.08 319.20V323.34M754.90 323.34V329.54M756.72 329.54V334.90M758.53 334.90V337.85M763.98 326.21V335.74M771.24 322.61V333.92M773.06 333.92V351.35M774.87 351.35V352.42M778.50 347.93V350.73M782.14 325.97V333.33M783.95 333.33V338.08M785.77 338.08V341.22M791.21 337.75V338.25M793.03 338.09V338.59M794.85 338.47V339.90M809.37 316.55V320.61M813.00 311.39V319.73M814.82 319.73V320.85M818.45 316.68V325.31M820.27 325.31V333.80M825.71 330.64V331.73M829.34 323.02V324.98M836.61 321.73V322.44M838.42 322.44V326.17M840.24 326.17V332.29" fill="none" stroke="#000" stroke-width="1.5"/>
<path d="M2.51 123.29C3.14 123.61 5.13 124.02 6.28 125.18C7.43 126.33 8.27 128.36 9.42 130.20C10.57 132.04 11.83 135.44 13.19 136.23C14.55 137.03 16.02 135.35 17.59 134.97C19.16 134.60 21.15 134.35 22.61 133.97C24.08 133.59 24.92 133.87 26.38 132.71C27.85 131.56 29.73 129.26 31.41 127.06C33.08 124.86 34.76 122.14 36.43 119.52C38.11 116.91 39.57 113.76 41.46 111.36C43.34 108.95 45.64 106.75 47.74 105.08C49.83 103.40 51.93 102.56 54.02 101.31C56.11 100.05 58.42 98.54 60.30 97.54C62.19 96.53 63.65 95.70 65.33 95.28C67.00 94.86 68.68 95.17 70.35 95.03C72.03 94.88 73.49 94.54 75.38 94.40C77.26 94.25 79.77 94.15 81.66 94.15C83.54 94.15 85.32 94.15 86.68 94.40C88.04 94.65 88.78 94.96 89.82 95.65C90.87 96.34 92.02 97.98 92.96 98.54C93.91 99.11 94.22 99.09 95.48 99.05C96.73 99.00 97.57 98.44 100.50 98.29C103.43 98.14 109.19 98.19 113.07 98.17C116.94 98.14 121.73 98.51 123.74 98.17C125.75 97.83 124.48 96.57 125.13 96.13C125.77 95.69 126.38 95.50 127.64 95.50C128.89 95.50 131.20 95.73 132.66 96.13C134.13 96.53 135.18 97.01 136.43 97.89C137.69 98.77 138.74 100.09 140.20 101.41C141.67 102.73 143.55 104.34 145.23 105.80C146.90 107.27 148.79 108.84 150.25 110.20C151.72 111.56 152.99 112.34 154.02 113.97C155.05 115.60 155.61 118.58 156.43 120.00C157.25 121.42 157.90 121.36 158.94 122.51C159.99 123.66 161.25 125.65 162.71 126.91C164.18 128.17 166.06 129.21 167.74 130.05C169.41 130.89 171.09 130.99 172.76 131.93C174.44 132.88 176.11 134.34 177.79 135.70C179.46 137.06 181.35 138.84 182.81 140.10C184.28 141.36 185.33 142.57 186.58 143.24C187.84 143.91 188.47 143.91 190.35 144.12C192.24 144.33 195.80 144.27 197.89 144.50C199.98 144.73 201.45 145.19 202.91 145.50C204.38 145.82 205.74 146.65 206.68 146.38C207.63 146.11 207.73 144.81 208.57 143.87C209.41 142.93 210.56 141.42 211.71 140.73C212.86 140.04 214.01 139.72 215.48 139.72C216.94 139.72 218.83 140.67 220.50 140.73C222.18 140.79 223.85 140.35 225.53 140.10C227.20 139.85 228.88 139.33 230.55 139.22C232.23 139.12 233.90 139.22 235.58 139.47C237.25 139.72 238.53 140.16 240.60 140.73C242.68 141.29 244.56 141.32 248.02 142.86C251.47 144.41 257.88 148.71 261.36 150.00C264.84 151.29 266.80 149.90 268.89 150.63C270.99 151.36 272.04 152.93 273.92 154.40C275.80 155.86 278.11 157.75 280.20 159.42C282.29 161.10 284.39 163.30 286.48 164.45C288.58 165.60 290.88 165.39 292.76 166.33C294.65 167.27 296.11 168.63 297.79 170.10C299.46 171.57 300.93 173.35 302.81 175.13C304.70 176.91 307.00 179.73 309.10 180.78C311.19 181.83 312.65 181.20 315.38 181.41C318.10 181.62 322.50 181.93 325.43 182.04C328.36 182.14 330.98 182.18 332.96 182.04C334.95 181.89 336.31 182.10 337.36 181.16C338.41 180.21 338.51 178.85 339.25 176.38C339.98 173.91 341.09 169.56 341.76 166.33C342.42 163.10 342.82 158.66 343.24 156.98C343.66 155.31 343.96 157.39 344.27 156.28C344.59 155.17 344.67 152.37 345.13 150.33C345.58 148.29 346.28 146.14 347.01 144.05C347.74 141.95 348.58 139.65 349.52 137.76C350.46 135.88 351.51 134.41 352.66 132.74C353.81 131.06 354.97 129.60 356.43 127.71C357.90 125.83 359.78 123.11 361.46 121.43C363.13 119.76 364.91 118.81 366.48 117.66C368.05 116.51 369.41 115.99 370.88 114.52C372.35 113.06 373.92 110.34 375.28 108.87C376.64 107.40 377.79 106.78 379.05 105.73C380.30 104.68 381.56 103.74 382.81 102.59C384.07 101.44 385.12 99.97 386.58 98.82C388.05 97.67 389.93 96.52 391.61 95.68C393.28 94.84 394.75 94.32 396.63 93.79C398.52 93.27 401.03 92.58 402.91 92.54C404.80 92.50 406.26 93.08 407.94 93.54C409.61 94.00 411.29 94.53 412.96 95.30C414.64 96.08 416.11 97.08 417.99 98.19C419.87 99.30 422.27 100.81 424.27 101.96C426.27 103.11 428.42 104.14 430.00 105.08C431.58 106.01 432.62 106.86 433.77 107.59C434.92 108.32 435.65 109.16 436.91 109.47C438.17 109.79 439.95 109.05 441.31 109.47C442.67 109.89 443.61 111.04 445.08 111.98C446.54 112.93 448.43 114.50 450.10 115.13C451.78 115.75 453.45 115.50 455.13 115.75C456.80 116.01 458.79 116.57 460.15 116.63C461.51 116.70 462.24 116.49 463.29 116.13C464.34 115.77 465.28 114.77 466.43 114.50C467.58 114.23 468.94 114.18 470.20 114.50C471.46 114.81 472.82 115.48 473.97 116.38C475.12 117.28 475.85 119.10 477.11 119.90C478.37 120.70 480.15 120.17 481.51 121.16C482.87 122.14 483.81 124.19 485.28 125.80C486.74 127.42 488.42 129.36 490.30 130.83C492.19 132.29 494.70 133.13 496.58 134.60C498.47 136.06 499.93 138.05 501.61 139.62C503.28 141.19 504.96 142.55 506.63 144.02C508.31 145.49 509.98 146.53 511.66 148.42C513.33 150.30 515.83 154.10 516.68 155.33C517.54 156.55 516.14 154.87 516.78 155.78C517.43 156.69 519.30 159.65 520.55 160.80C521.81 161.96 522.86 162.06 524.32 162.69C525.79 163.32 527.06 163.53 529.35 164.57C531.63 165.62 536.37 168.07 538.02 168.97C539.66 169.87 538.20 169.41 539.25 170.00C540.29 170.59 542.39 171.68 544.27 172.51C546.16 173.35 548.46 174.19 550.55 175.03C552.65 175.86 554.95 176.91 556.83 177.54C558.72 178.17 559.66 178.66 561.86 178.79C564.06 178.93 567.64 178.33 570.05 178.37C572.46 178.40 573.40 178.89 576.33 178.99C579.26 179.10 584.92 179.20 587.64 178.99C590.36 178.79 590.99 177.99 592.66 177.74C594.34 177.49 595.91 177.53 597.69 177.49C599.47 177.45 601.88 177.86 603.34 177.49C604.81 177.11 605.44 176.44 606.48 175.23C607.53 174.01 608.58 171.67 609.62 170.20C610.67 168.74 611.61 167.48 612.76 166.43C613.92 165.39 615.28 164.59 616.53 163.92C617.79 163.25 619.05 162.94 620.30 162.41C621.56 161.89 622.81 161.09 624.07 160.78C625.33 160.46 626.58 160.53 627.84 160.53C629.10 160.53 630.46 160.53 631.61 160.78C632.76 161.03 633.60 161.34 634.75 162.04C635.90 162.73 637.47 164.44 638.52 164.92C639.56 165.41 640.09 164.63 641.03 164.92C641.97 165.22 643.23 166.12 644.17 166.68C645.11 167.25 645.85 167.98 646.68 168.32C647.52 168.65 648.36 168.27 649.20 168.69C650.03 169.11 650.87 170.05 651.71 170.83C652.55 171.60 652.96 172.29 654.22 173.34C655.48 174.39 657.15 175.75 659.25 177.11C661.34 178.47 664.90 179.94 666.78 181.51C668.67 183.08 669.30 184.86 670.55 186.53C671.81 188.21 673.07 189.78 674.32 191.56C675.58 193.34 677.25 195.89 678.09 197.21C678.93 198.53 678.30 197.73 679.35 199.47C680.39 201.21 682.93 205.23 684.37 207.64C685.82 210.05 686.16 210.19 688.02 213.92C689.87 217.65 693.86 226.27 695.53 230.00C697.20 233.73 697.20 233.98 698.04 236.28C698.88 238.58 699.72 241.31 700.55 243.82C701.39 246.33 702.23 249.05 703.07 251.36C703.90 253.66 704.53 255.75 705.58 257.64C706.62 259.52 708.09 260.99 709.35 262.66C710.60 264.34 711.67 265.59 713.12 267.69C714.56 269.78 716.63 273.14 718.02 275.23C719.40 277.32 720.21 278.45 721.41 280.23C722.60 282.00 723.92 283.79 725.18 285.88C726.43 287.97 728.15 291.27 728.94 292.79C729.74 294.31 729.30 293.95 729.92 295.00C730.55 296.05 732.19 298.23 732.71 299.07C733.24 299.91 732.68 299.34 733.07 300.03C733.45 300.71 734.26 302.04 735.00 303.19C735.74 304.35 736.47 306.02 737.51 306.96C738.56 307.90 739.82 308.53 741.28 308.84C742.75 309.16 744.84 309.10 746.31 308.84C747.77 308.59 748.82 307.44 750.08 307.34C751.33 307.23 752.17 308.01 753.84 308.22C755.52 308.43 757.82 308.59 760.13 308.59C762.43 308.59 765.78 308.07 767.66 308.22C769.55 308.36 770.18 309.05 771.43 309.47C772.69 309.89 773.74 310.41 775.20 310.73C776.67 311.04 778.55 311.15 780.23 311.36C781.90 311.57 783.37 311.82 785.25 311.98C787.14 312.15 789.44 312.32 791.53 312.36C793.63 312.40 795.93 312.40 797.81 312.24C799.70 312.07 801.37 311.82 802.84 311.36C804.30 310.90 805.35 310.10 806.61 309.47C807.86 308.84 809.12 308.07 810.38 307.59C811.63 307.11 812.99 306.83 814.15 306.58C815.30 306.33 816.24 305.91 817.29 306.08C818.33 306.25 819.48 307.13 820.43 307.59C821.37 308.05 821.68 308.63 822.94 308.84C824.20 309.05 826.29 308.74 827.96 308.84C829.64 308.95 831.31 309.16 832.99 309.47C834.66 309.79 836.34 310.41 838.02 310.73C839.69 311.04 841.26 311.21 843.04 311.36C844.82 311.50 847.75 311.57 848.69 311.61" fill="none" stroke="#ff0000" stroke-width="1.05" stroke-linejoin="round"/>
<path d="M2.51 168.22C3.35 167.48 5.97 164.92 7.54 163.82C9.11 162.72 10.05 162.29 11.93 161.61C13.82 160.93 16.23 160.25 18.84 159.72C21.46 159.20 24.92 159.10 27.64 158.47C30.36 157.84 32.87 156.90 35.18 155.95C37.48 155.01 39.36 153.97 41.46 152.81C43.55 151.66 45.64 150.30 47.74 149.05C49.83 147.79 51.93 146.53 54.02 145.28C56.11 144.02 58.42 142.49 60.30 141.51C62.19 140.52 63.65 139.90 65.33 139.37C67.00 138.85 68.26 138.68 70.35 138.37C72.45 138.05 75.38 137.80 77.89 137.49C80.40 137.17 83.33 136.86 85.43 136.48C87.52 136.11 88.78 135.52 90.45 135.23C92.13 134.93 93.80 134.77 95.48 134.72C97.15 134.68 97.57 134.89 100.50 134.97C103.43 135.06 109.82 135.10 113.07 135.23C116.31 135.35 118.01 135.41 120.00 135.70C121.99 135.99 122.93 136.23 125.03 136.96C127.12 137.69 130.26 138.95 132.56 140.10C134.87 141.25 136.75 142.72 138.84 143.87C140.94 145.02 142.82 145.75 145.13 147.01C147.43 148.27 150.57 150.26 152.66 151.41C154.76 152.56 156.01 153.08 157.69 153.92C159.36 154.76 161.04 155.59 162.71 156.43C164.39 157.27 165.85 158.11 167.74 158.94C169.62 159.78 171.93 160.72 174.02 161.46C176.11 162.19 178.21 162.82 180.30 163.34C182.40 163.87 184.07 164.28 186.58 164.60C189.10 164.91 192.65 165.02 195.38 165.23C198.10 165.44 200.82 165.48 202.91 165.85C205.01 166.23 206.68 166.80 207.94 167.49C209.20 168.18 209.41 169.27 210.45 170.00C211.50 170.73 212.55 171.05 214.22 171.88C215.90 172.72 218.20 173.98 220.50 175.03C222.81 176.07 225.53 177.16 228.04 178.17C230.55 179.17 233.58 180.52 235.58 181.06C237.57 181.60 238.74 181.09 240.00 181.41C241.26 181.72 241.86 182.63 243.12 182.94C244.37 183.25 246.72 183.19 247.54 183.29C248.35 183.40 246.76 183.25 248.02 183.57C249.27 183.88 252.64 184.59 255.08 185.18C257.51 185.76 260.10 186.43 262.61 187.06C265.13 187.69 267.64 188.11 270.15 188.94C272.66 189.78 275.18 191.25 277.69 192.09C280.20 192.92 282.71 193.40 285.23 193.97C287.74 194.54 290.25 194.95 292.76 195.48C295.28 196.00 298.00 196.63 300.30 197.11C302.60 197.59 304.49 198.16 306.58 198.37C308.68 198.58 310.56 198.43 312.86 198.37C315.17 198.30 317.89 198.14 320.40 197.99C322.91 197.84 325.64 197.63 327.94 197.49C330.24 197.34 332.55 197.24 334.22 197.11C335.90 196.98 336.94 197.05 337.99 196.73C339.04 196.42 339.04 196.31 340.50 195.23C341.97 194.14 345.18 191.38 346.78 190.20C348.38 189.02 349.05 188.79 350.10 188.17C351.15 187.54 351.81 187.06 353.07 186.43C354.32 185.80 356.59 184.92 357.64 184.40C358.69 183.87 350.54 188.34 359.35 183.29C368.15 178.24 400.89 159.48 410.45 154.10C420.02 148.71 414.64 152.00 416.73 150.95C418.83 149.91 420.92 148.65 423.02 147.81C425.11 146.98 427.20 146.45 429.30 145.93C431.39 145.41 434.01 144.99 435.58 144.67C437.15 144.36 437.67 143.94 438.72 144.05C439.77 144.15 441.20 144.92 441.86 145.30C442.52 145.69 441.64 145.73 442.66 146.36C443.69 146.98 446.76 148.44 448.02 149.07C449.27 149.70 448.58 149.32 450.20 150.13C451.82 150.93 455.23 152.53 457.74 153.89C460.25 155.26 462.76 156.83 465.28 158.29C467.79 159.76 470.30 161.01 472.81 162.69C475.33 164.36 477.84 166.35 480.35 168.34C482.86 170.33 485.38 172.63 487.89 174.62C490.40 176.61 492.91 178.29 495.43 180.28C497.94 182.27 500.45 184.57 502.96 186.56C505.48 188.55 508.43 190.68 510.50 192.21C512.57 193.74 514.33 195.13 515.38 195.75C516.42 196.38 515.95 195.67 516.78 195.98C517.62 196.29 518.54 197.19 520.40 197.64C522.26 198.08 525.43 198.33 527.94 198.64C530.45 198.96 532.96 199.23 535.48 199.52C537.99 199.82 540.50 200.09 543.02 200.40C545.53 200.72 548.04 201.07 550.55 201.41C553.07 201.74 556.00 202.04 558.09 202.41C560.18 202.79 561.54 203.26 563.12 203.67C564.69 204.08 566.72 204.73 567.54 204.87C568.35 205.02 566.76 204.34 568.02 204.55C569.27 204.76 572.22 205.72 575.08 206.13C577.93 206.54 581.78 206.82 585.13 207.01C588.48 207.20 592.45 207.20 595.18 207.26C597.90 207.32 599.57 207.16 601.46 207.39C603.34 207.62 604.81 208.08 606.48 208.64C608.16 209.21 609.83 209.90 611.51 210.78C613.18 211.66 614.65 212.56 616.53 213.92C618.42 215.28 620.72 217.27 622.81 218.94C624.91 220.62 627.00 222.09 629.10 223.97C631.19 225.85 633.52 228.20 635.38 230.25C637.24 232.30 639.41 235.34 640.25 236.28C641.09 237.22 639.54 234.82 640.40 235.90C641.26 236.99 644.41 241.29 645.43 242.81C646.45 244.34 645.70 243.92 646.53 245.08C647.37 246.23 649.41 248.36 650.45 249.72C651.50 251.08 651.58 251.61 652.81 253.24C654.05 254.87 655.75 257.11 657.84 259.52C659.93 261.93 662.86 264.86 665.38 267.69C667.89 270.52 670.40 273.55 672.91 276.48C675.43 279.41 677.94 282.35 680.45 285.28C682.96 288.21 686.55 292.45 687.99 294.07C689.43 295.69 687.86 293.59 689.10 295.00C690.33 296.41 693.49 299.92 695.38 302.54C697.26 305.15 698.73 308.40 700.40 310.70C702.08 313.01 703.54 314.47 705.43 316.36C707.31 318.24 709.61 320.23 711.71 322.01C713.80 323.79 715.90 325.46 717.99 327.04C720.08 328.61 722.39 330.07 724.27 331.43C726.16 332.79 727.51 334.15 729.30 335.20C731.08 336.25 733.00 337.21 735.00 337.74C737.00 338.27 738.77 338.20 741.28 338.37C743.79 338.53 746.93 338.64 750.08 338.74C753.22 338.85 756.98 338.91 760.13 338.99C763.27 339.08 766.83 339.08 768.92 339.25C771.01 339.41 771.22 339.73 772.69 340.00C774.15 340.27 775.62 340.63 777.71 340.88C779.81 341.13 782.95 341.40 785.25 341.51C787.55 341.61 789.44 341.61 791.53 341.51C793.63 341.40 795.93 341.19 797.81 340.88C799.70 340.57 801.37 340.04 802.84 339.62C804.30 339.20 805.35 338.89 806.61 338.37C807.86 337.84 808.91 337.11 810.38 336.48C811.84 335.85 813.73 335.23 815.40 334.60C817.08 333.97 818.75 333.24 820.43 332.71C822.10 332.19 823.78 331.88 825.45 331.46C827.13 331.04 829.01 330.52 830.48 330.20C831.94 329.89 832.78 329.61 834.25 329.57C835.71 329.53 837.60 329.85 839.27 329.95C840.95 330.05 842.73 330.12 844.30 330.20C845.87 330.28 847.96 330.41 848.69 330.45" fill="none" stroke="#ff0000" stroke-width="1.05" stroke-linejoin="round"/>
<path d="M2.51 212.19C2.93 211.03 4.19 207.68 5.03 205.28C5.86 202.87 6.70 200.04 7.54 197.74C8.38 195.44 9.11 193.49 10.05 191.46C10.99 189.43 11.73 186.60 13.19 185.55C14.66 184.51 16.96 185.34 18.84 185.18C20.73 185.01 22.82 184.30 24.50 184.55C26.17 184.80 27.32 186.06 28.89 186.68C30.46 187.31 32.45 187.52 33.92 188.32C35.39 189.11 36.43 190.52 37.69 191.46C38.94 192.40 39.99 193.87 41.46 193.97C42.92 194.07 44.81 192.92 46.48 192.09C48.16 191.25 49.62 190.10 51.51 188.94C53.39 187.79 55.49 186.18 57.79 185.18C60.09 184.17 62.81 183.65 65.33 182.91C67.84 182.18 70.14 181.24 72.86 180.78C75.59 180.32 78.94 180.72 81.66 180.15C84.38 179.59 87.52 178.43 89.20 177.39C90.87 176.34 90.98 174.92 91.71 173.87C92.44 172.82 92.76 171.42 93.59 171.11C94.43 170.79 95.58 171.63 96.73 171.98C97.89 172.34 98.83 172.97 100.50 173.24C102.18 173.51 104.48 173.66 106.78 173.62C109.09 173.58 111.81 173.05 114.32 172.99C116.83 172.93 120.08 172.78 121.86 173.24C123.64 173.70 124.37 174.83 125.00 175.75C125.63 176.68 124.81 177.66 125.65 178.79C126.49 179.93 128.48 181.41 130.05 182.56C131.62 183.71 133.19 184.87 135.08 185.70C136.96 186.54 139.26 187.06 141.36 187.59C143.45 188.11 145.65 188.57 147.64 188.84C149.63 189.12 151.62 189.47 153.29 189.22C154.97 188.97 156.22 188.03 157.69 187.34C159.15 186.65 160.83 185.14 162.09 185.08C163.34 185.01 163.87 186.16 165.23 186.96C166.59 187.76 168.58 189.43 170.25 189.85C171.93 190.27 173.60 189.81 175.28 189.47C176.95 189.14 178.63 188.47 180.30 187.84C181.98 187.21 183.97 186.12 185.33 185.70C186.69 185.28 187.42 185.26 188.47 185.33C189.51 185.39 190.04 185.91 191.61 186.08C193.18 186.25 195.59 186.29 197.89 186.33C200.19 186.37 203.75 186.12 205.43 186.33C207.10 186.54 207.27 186.33 207.94 187.59C208.61 188.84 208.82 192.09 209.45 193.87C210.08 195.65 210.70 196.70 211.71 198.27C212.71 199.84 214.01 201.72 215.48 203.29C216.94 204.86 218.83 206.33 220.50 207.69C222.18 209.05 224.06 210.20 225.53 211.46C226.99 212.71 228.04 214.07 229.30 215.23C230.55 216.38 231.81 217.42 233.07 218.37C234.32 219.31 235.58 220.15 236.83 220.88C238.09 221.61 238.74 222.14 240.60 222.76C242.47 223.39 245.80 224.41 248.02 224.65C250.23 224.88 251.47 224.19 253.92 224.17C256.37 224.15 260.41 224.28 262.71 224.55C265.02 224.82 266.06 225.43 267.74 225.80C269.41 226.18 271.09 226.66 272.76 226.81C274.44 226.96 275.70 226.89 277.79 226.68C279.88 226.47 282.81 225.97 285.33 225.55C287.84 225.13 290.58 224.83 292.86 224.17C295.15 223.51 296.97 222.56 299.05 221.61C301.12 220.66 303.44 219.30 305.33 218.47C307.21 217.63 308.26 217.11 310.35 216.58C312.45 216.06 315.38 215.68 317.89 215.33C320.40 214.97 323.33 214.87 325.43 214.45C327.52 214.03 328.99 213.15 330.45 212.81C331.92 212.48 333.07 212.50 334.22 212.44C335.37 212.37 336.52 211.75 337.36 212.44C338.20 213.13 338.62 215.05 339.25 216.58C339.87 218.11 340.58 219.85 341.13 221.61C341.68 223.36 341.70 225.04 342.56 227.11C343.43 229.18 345.08 232.03 346.33 234.02C347.59 236.01 348.63 237.68 350.10 239.05C351.57 240.41 353.24 241.62 355.13 242.19C357.01 242.75 359.52 242.71 361.41 242.44C363.29 242.16 364.76 241.22 366.43 240.55C368.11 239.88 369.78 238.98 371.46 238.42C373.13 237.85 374.81 237.79 376.48 237.16C378.16 236.53 379.83 235.42 381.51 234.65C383.18 233.87 384.96 233.08 386.53 232.51C388.10 231.95 389.46 231.95 390.93 231.26C392.40 230.57 393.97 229.16 395.33 228.37C396.69 227.57 397.84 227.42 399.10 226.48C400.35 225.54 401.40 224.39 402.86 222.71C404.33 221.04 406.21 218.63 407.89 216.43C409.56 214.23 411.24 212.14 412.91 209.52C414.59 206.91 416.54 202.82 417.94 200.73C419.34 198.64 419.91 198.51 421.31 196.98C422.71 195.46 424.66 193.43 426.33 191.58C428.01 189.74 429.89 187.60 431.36 185.93C432.82 184.25 434.04 182.58 435.13 181.53C436.21 180.49 436.84 179.65 437.89 179.65C438.94 179.65 439.98 180.70 441.41 181.53C442.83 182.37 444.76 183.63 446.43 184.67C448.11 185.72 449.78 186.56 451.46 187.81C453.13 189.07 454.62 190.36 456.48 192.21C458.34 194.06 460.75 196.84 462.61 198.89C464.47 200.95 465.96 202.87 467.64 204.55C469.31 206.22 470.99 207.58 472.66 208.94C474.34 210.31 476.22 211.46 477.69 212.71C479.15 213.97 479.99 215.23 481.46 216.48C482.92 217.74 484.81 218.99 486.48 220.25C488.16 221.51 489.83 222.76 491.51 224.02C493.18 225.28 494.86 226.53 496.53 227.79C498.21 229.05 499.88 230.41 501.56 231.56C503.23 232.71 505.12 233.86 506.58 234.70C508.05 235.54 509.20 236.16 510.35 236.58C511.50 237.00 512.45 237.42 513.49 237.21C514.54 237.00 515.48 236.02 516.63 235.33C517.78 234.64 518.94 233.59 520.40 233.07C521.87 232.54 523.33 232.44 525.43 232.19C527.52 231.93 530.45 231.91 532.96 231.56C535.48 231.20 538.20 230.51 540.50 230.05C542.81 229.59 544.69 229.13 546.78 228.79C548.88 228.46 550.97 228.17 553.07 228.04C555.16 227.91 557.67 227.77 559.35 228.04C561.02 228.31 561.67 229.09 563.12 229.67C564.56 230.26 566.44 231.15 568.02 231.56C569.59 231.97 570.55 231.83 572.56 232.14C574.58 232.44 577.80 233.04 580.10 233.39C582.40 233.75 584.71 233.64 586.38 234.27C588.06 234.90 588.27 236.64 590.15 237.16C592.04 237.68 595.59 237.37 597.69 237.41C599.78 237.45 601.48 237.08 602.71 237.41C603.94 237.75 604.55 239.05 605.08 239.42C605.60 239.80 605.44 238.73 605.85 239.67C606.27 240.62 607.17 244.13 607.59 245.08C608.01 246.02 607.74 243.97 608.37 245.33C608.99 246.69 610.23 250.56 611.36 253.24C612.48 255.92 613.66 258.37 615.13 261.41C616.59 264.44 618.69 268.53 620.15 271.46C621.62 274.39 622.66 276.59 623.92 278.99C625.18 281.40 626.43 283.60 627.69 285.90C628.94 288.21 629.60 289.83 631.46 292.81C633.32 295.80 636.57 299.87 638.84 303.79C641.12 307.72 643.03 312.17 645.13 316.36C647.22 320.54 649.31 324.94 651.41 328.92C653.50 332.90 655.80 336.88 657.69 340.23C659.57 343.58 661.25 346.30 662.71 349.02C664.18 351.74 665.02 354.46 666.48 356.56C667.95 358.65 670.49 360.46 671.51 361.58C672.52 362.71 671.34 362.17 672.56 363.29C673.79 364.41 676.75 366.96 678.84 368.32C680.94 369.68 683.24 370.41 685.13 371.46C687.01 372.50 688.69 373.80 690.15 374.60C691.62 375.39 692.66 376.08 693.92 376.23C695.18 376.38 696.43 375.90 697.69 375.48C698.94 375.06 699.99 374.01 701.46 373.72C702.92 373.43 704.81 373.43 706.48 373.72C708.16 374.01 709.83 374.97 711.51 375.48C713.18 375.98 714.86 376.25 716.53 376.73C718.21 377.22 720.09 378.14 721.56 378.37C723.02 378.60 723.86 378.43 725.33 378.12C726.79 377.80 728.89 377.17 730.35 376.48C731.82 375.79 732.86 374.97 734.12 373.97C735.38 372.96 736.63 371.19 737.89 370.45C739.15 369.72 739.98 369.76 741.66 369.57C743.33 369.38 745.64 369.36 747.94 369.32C750.24 369.28 752.96 369.32 755.48 369.32C757.99 369.32 760.50 369.28 763.02 369.32C765.53 369.36 768.46 369.38 770.55 369.57C772.65 369.76 774.00 370.24 775.58 370.45C777.15 370.66 778.22 370.70 780.00 370.83C781.78 370.95 784.19 371.27 786.28 371.21C788.38 371.14 790.89 370.79 792.56 370.45C794.24 370.12 794.87 369.76 796.33 369.20C797.80 368.63 799.47 367.77 801.36 367.06C803.24 366.35 805.75 365.45 807.64 364.92C809.52 364.40 811.20 364.30 812.66 363.92C814.13 363.54 815.39 363.19 816.43 362.66C817.48 362.14 818.11 361.72 818.94 360.78C819.78 359.84 820.20 358.06 821.46 357.01C822.71 355.96 825.02 355.44 826.48 354.50C827.95 353.56 829.20 352.09 830.25 351.36C831.30 350.62 831.51 350.41 832.76 350.10C834.02 349.79 836.11 349.62 837.79 349.47C839.46 349.33 840.97 349.26 842.81 349.22C844.66 349.18 847.84 349.22 848.84 349.22" fill="none" stroke="#ff0000" stroke-width="1.05" stroke-linejoin="round"/>
<path d="M3.20 494.9V490.82M5.02 494.9V490.24M6.83 494.9V490.42M8.65 494.9V490.87M10.46 494.9V490.69M12.28 494.9V490.51M14.09 494.9V489.20M15.91 494.9V486.61M17.73 494.9V486.39M19.54 494.9V486.17M21.36 494.9V486.16M23.17 494.9V486.16M24.99 494.9V485.01M26.80 494.9V481.84M28.62 494.9V478.08M30.44 494.9V474.00M32.25 494.9V472.37M34.07 494.9V470.62M35.88 494.9V466.99M37.70 494.9V462.82M39.51 494.9V459.99M41.33 494.9V458.86M43.15 494.9V459.46M44.96 494.9V461.26M46.78 494.9V463.50M48.59 494.9V465.68M50.41 494.9V467.41M52.22 494.9V468.32M54.04 494.9V469.11M55.86 494.9V469.77M57.67 494.9V471.13M59.49 494.9V472.49M61.30 494.9V473.86M63.12 494.9V475.86M64.93 494.9V478.67M66.75 494.9V482.33M68.57 494.9V487.77M70.38 494.9V493.87M72.20 494.9V497.90M74.01 494.9V499.13M75.83 494.9V499.82M77.64 494.9V500.27M79.46 494.9V500.33M81.28 494.9V500.37M83.09 494.9V500.41M84.91 494.9V501.29M86.72 494.9V502.57M88.54 494.9V504.99M90.35 494.9V509.13M92.17 494.9V512.38M93.99 494.9V515.11M95.80 494.9V517.41M97.62 494.9V519.66M99.43 494.9V521.84M101.25 494.9V522.29M103.06 494.9V519.67M104.88 494.9V517.13M106.69 494.9V515.32M108.51 494.9V513.86M110.33 494.9V512.41M112.14 494.9V510.96M113.96 494.9V509.51M115.77 494.9V508.55M117.59 494.9V507.82M119.40 494.9V506.53M121.22 494.9V504.71M123.04 494.9V506.49M124.85 494.9V511.55M126.67 494.9V513.97M128.48 494.9V514.43M130.30 494.9V514.28M132.11 494.9V513.96M133.93 494.9V513.52M135.75 494.9V513.06M137.56 494.9V512.55M139.38 494.9V511.98M141.19 494.9V511.25M143.01 494.9V510.47M144.82 494.9V509.23M146.64 494.9V508.00M148.46 494.9V506.69M150.27 494.9V505.39M152.09 494.9V504.54M153.90 494.9V503.81M155.72 494.9V502.86M157.53 494.9V501.77M159.35 494.9V499.91M161.17 494.9V496.08M162.98 494.9V498.64M164.80 494.9V504.13M166.61 494.9V507.31M168.43 494.9V509.56M170.24 494.9V510.10M172.06 494.9V508.82M173.88 494.9V507.00M175.69 494.9V501.69M177.51 494.9V497.10M179.32 494.9V495.30M181.14 494.9V495.20M182.95 494.9V494.29M184.77 494.9V494.13M186.59 494.9V494.13M188.40 494.9V495.20M190.22 494.9V496.18M192.03 494.9V496.82M193.85 494.9V497.27M195.66 494.9V497.45M197.48 494.9V497.16M199.30 494.9V495.71M201.11 494.9V495.70M202.93 494.9V495.82M204.74 494.9V496.27M206.56 494.9V496.81M208.37 494.9V501.57M210.19 494.9V513.11M212.01 494.9V518.74M213.82 494.9V521.98M215.64 494.9V523.80M217.45 494.9V524.42M219.27 494.9V524.93M221.08 494.9V524.92M222.90 494.9V524.74M224.72 494.9V524.52M226.53 494.9V524.30M228.35 494.9V524.14M230.16 494.9V524.00M231.98 494.9V522.68M233.79 494.9V520.87M235.61 494.9V518.61M237.43 494.9V516.20M239.24 494.9V513.33M241.06 494.9V511.16M242.87 494.9V507.20M244.69 494.9V504.89M246.50 494.9V503.41M248.32 494.9V501.46M250.14 494.9V498.22M251.95 494.9V494.44M253.77 494.9V491.22M255.58 494.9V488.93M257.40 494.9V489.23M259.21 494.9V491.52M261.03 494.9V494.24M262.85 494.9V495.76M264.66 494.9V496.97M266.48 494.9V498.21M268.29 494.9V499.57M270.11 494.9V500.39M271.92 494.9V500.61M273.74 494.9V500.85M275.56 494.9V501.14M277.37 494.9V501.31M279.19 494.9V500.80M281.00 494.9V500.29M282.82 494.9V499.93M284.63 494.9V499.57M286.45 494.9V498.50M288.26 494.9V496.00M290.08 494.9V491.77M291.90 494.9V490.19M293.71 494.9V489.63M295.53 494.9V489.36M297.34 494.9V488.64M299.16 494.9V489.01M300.97 494.9V490.69M302.79 494.9V492.26M304.61 494.9V495.20M306.42 494.9V496.65M308.24 494.9V498.14M310.05 494.9V499.50M311.87 494.9V500.41M313.68 494.9V501.27M315.50 494.9V501.99M317.32 494.9V502.43M319.13 494.9V502.61M320.95 494.9V501.91M322.76 494.9V501.02M324.58 494.9V500.29M326.39 494.9V499.75M328.21 494.9V499.57M330.03 494.9V498.66M331.84 494.9V497.30M333.66 494.9V496.10M335.47 494.9V495.20M337.29 494.9V493.31M339.10 494.9V483.81M340.92 494.9V471.52M342.74 494.9V459.32M344.55 494.9V450.58M346.37 494.9V445.05M348.18 494.9V440.63M350.00 494.9V438.51M351.81 494.9V439.16M353.63 494.9V440.38M355.45 494.9V443.01M357.26 494.9V445.45M359.08 494.9V447.49M360.89 494.9V450.52M362.71 494.9V454.09M364.52 494.9V458.44M366.34 494.9V462.92M368.16 494.9V466.55M369.97 494.9V469.58M371.79 494.9V470.29M373.60 494.9V469.75M375.42 494.9V468.75M377.23 494.9V467.54M379.05 494.9V469.30M380.87 494.9V471.41M382.68 494.9V472.55M384.50 494.9V471.34M386.31 494.9V471.81M388.13 494.9V472.33M389.94 494.9V472.81M391.76 494.9V476.33M393.58 494.9V479.60M395.39 494.9V482.62M397.21 494.9V485.65M399.02 494.9V488.09M400.84 494.9V490.11M402.65 494.9V491.79M404.47 494.9V493.28M406.29 494.9V495.29M408.10 494.9V497.35M409.92 494.9V498.19M411.73 494.9V498.82M413.55 494.9V499.00M415.36 494.9V498.89M417.18 494.9V498.44M419.00 494.9V499.30M420.81 494.9V500.66M422.63 494.9V505.49M424.44 494.9V510.34M426.26 494.9V514.69M428.07 494.9V518.15M429.89 494.9V520.21M431.71 494.9V520.60M433.52 494.9V520.60M435.34 494.9V520.16M437.15 494.9V518.10M438.97 494.9V517.10M440.78 494.9V516.30M442.60 494.9V515.93M444.42 494.9V515.55M446.23 494.9V514.65M448.05 494.9V513.66M449.86 494.9V512.48M451.68 494.9V512.38M453.49 494.9V513.11M455.31 494.9V513.61M457.12 494.9V514.01M458.94 494.9V514.01M460.76 494.9V514.53M462.57 494.9V515.89M464.39 494.9V519.13M466.20 494.9V521.73M468.02 494.9V521.37M469.83 494.9V520.93M471.65 494.9V520.21M473.47 494.9V519.73M475.28 494.9V519.55M477.10 494.9V518.61M478.91 494.9V518.33M480.73 494.9V519.24M482.54 494.9V520.47M484.36 494.9V521.83M486.18 494.9V522.07M487.99 494.9V522.29M489.81 494.9V522.11M491.62 494.9V521.90M493.44 494.9V522.35M495.25 494.9V522.32M497.07 494.9V521.41M498.89 494.9V520.50M500.70 494.9V519.59M502.52 494.9V518.68M504.33 494.9V517.68M506.15 494.9V516.23M507.96 494.9V516.61M509.78 494.9V517.28M511.60 494.9V518.19M513.41 494.9V517.45M515.23 494.9V513.92M517.04 494.9V506.65M518.86 494.9V500.46M520.67 494.9V496.91M522.49 494.9V494.10M524.31 494.9V491.37M526.12 494.9V489.58M527.94 494.9V488.12M529.75 494.9V487.35M531.57 494.9V486.22M533.38 494.9V485.01M535.20 494.9V483.80M537.02 494.9V482.59M538.83 494.9V482.32M540.65 494.9V481.75M542.46 494.9V480.75M544.28 494.9V479.40M546.09 494.9V479.16M547.91 494.9V480.06M549.73 494.9V481.09M551.54 494.9V482.01M553.36 494.9V483.22M555.17 494.9V486.05M556.99 494.9V489.98M558.80 494.9V494.26M560.62 494.9V497.64M562.44 494.9V502.16M564.25 494.9V505.89M566.07 494.9V508.07M567.88 494.9V508.95M569.70 494.9V509.13M571.51 494.9V509.42M573.33 494.9V509.87M575.15 494.9V509.73M576.96 494.9V509.28M578.78 494.9V509.25M580.59 494.9V509.25M582.41 494.9V509.25M584.22 494.9V509.25M586.04 494.9V509.25M587.86 494.9V509.94M589.67 494.9V512.21M591.49 494.9V512.96M593.30 494.9V511.62M595.12 494.9V507.74M596.93 494.9V504.70M598.75 494.9V502.92M600.57 494.9V502.42M602.38 494.9V503.30M604.20 494.9V507.48M606.01 494.9V513.54M607.83 494.9V519.59M609.64 494.9V525.64M611.46 494.9V530.88M613.28 494.9V534.46M615.09 494.9V536.88M616.91 494.9V538.40M618.72 494.9V539.48M620.54 494.9V540.39M622.35 494.9V541.16M624.17 494.9V541.89M625.99 494.9V540.73M627.80 494.9V539.74M629.62 494.9V539.29M631.43 494.9V538.59M633.25 494.9V537.69M635.06 494.9V536.78M636.88 494.9V536.02M638.70 494.9V537.23M640.51 494.9V539.85M642.33 494.9V542.87M644.14 494.9V545.68M645.96 494.9V547.50M647.77 494.9V550.38M649.59 494.9V552.45M651.40 494.9V552.46M653.22 494.9V550.86M655.04 494.9V549.65M656.85 494.9V548.01M658.67 494.9V545.96M660.48 494.9V543.60M662.30 494.9V541.78M664.11 494.9V539.97M665.93 494.9V538.46M667.75 494.9V536.86M669.56 494.9V533.84M671.38 494.9V530.81M673.19 494.9V528.16M675.01 494.9V525.93M676.82 494.9V524.16M678.64 494.9V524.16M680.46 494.9V523.91M682.27 494.9V522.70M684.09 494.9V521.49M685.90 494.9V520.28M687.72 494.9V518.85M689.53 494.9V519.73M691.35 494.9V522.22M693.17 494.9V523.83M694.98 494.9V525.02M696.80 494.9V525.63M698.61 494.9V527.31M700.43 494.9V527.97M702.24 494.9V526.93M704.06 494.9V526.21M705.88 494.9V525.38M707.69 494.9V523.99M709.51 494.9V522.18M711.32 494.9V520.36M713.14 494.9V518.55M714.95 494.9V517.13M716.77 494.9V515.92M718.59 494.9V514.98M720.40 494.9V517.52M722.22 494.9V517.49M724.03 494.9V514.43M725.85 494.9V512.22M727.66 494.9V511.01M729.48 494.9V509.80M731.30 494.9V508.59M733.11 494.9V504.86M734.93 494.9V492.52M736.74 494.9V486.25M738.56 494.9V482.06M740.37 494.9V480.26M742.19 494.9V480.20M744.01 494.9V479.59M745.82 494.9V478.79M747.64 494.9V478.01M749.45 494.9V477.33M751.27 494.9V476.85M753.08 494.9V477.32M754.90 494.9V481.51M756.72 494.9V484.22M758.53 494.9V485.46M760.35 494.9V486.11M762.16 494.9V486.82M763.98 494.9V487.79M765.79 494.9V487.43M767.61 494.9V487.07M769.43 494.9V487.58M771.24 494.9V490.49M773.06 494.9V495.60M774.87 494.9V498.89M776.69 494.9V502.38M778.50 494.9V503.03M780.32 494.9V500.45M782.14 494.9V499.91M783.95 494.9V500.52M785.77 494.9V501.40M787.58 494.9V501.48M789.40 494.9V500.63M791.21 494.9V500.38M793.03 494.9V500.04M794.85 494.9V500.09M796.66 494.9V499.71M798.48 494.9V496.69M800.29 494.9V494.01M802.11 494.9V492.22M803.92 494.9V489.80M805.74 494.9V487.96M807.56 494.9V485.50M809.37 494.9V483.02M811.19 494.9V481.33M813.00 494.9V480.77M814.82 494.9V481.33M816.63 494.9V481.92M818.45 494.9V483.23M820.27 494.9V485.40M822.08 494.9V487.05M823.90 494.9V488.16M825.71 494.9V489.74M827.53 494.9V489.99M829.34 494.9V489.75M831.16 494.9V489.02M832.97 494.9V488.33M834.79 494.9V488.05M836.61 494.9V487.45M838.42 494.9V487.75M840.24 494.9V489.00M842.05 494.9V489.69M843.87 494.9V490.39M845.68 494.9V491.16M847.50 494.9V491.94" fill="none" stroke="#c4c8cc" stroke-width="1.82"/>
<path d="M3.20 494.9V490.82M5.02 494.9V490.24M6.83 494.9V490.42M8.65 494.9V490.87M10.46 494.9V490.69M12.28 494.9V490.51M14.09 494.9V489.20M15.91 494.9V486.61M17.73 494.9V486.39M19.54 494.9V486.17M21.36 494.9V486.16M23.17 494.9V486.16M24.99 494.9V485.01M26.80 494.9V481.84M28.62 494.9V478.08M30.44 494.9V474.00M32.25 494.9V472.37M34.07 494.9V470.62M35.88 494.9V466.99M37.70 494.9V462.82M39.51 494.9V459.99M41.33 494.9V458.86M43.15 494.9V459.46M44.96 494.9V461.26M46.78 494.9V463.50M48.59 494.9V465.68M50.41 494.9V467.41M52.22 494.9V468.32M54.04 494.9V469.11M55.86 494.9V469.77M57.67 494.9V471.13M59.49 494.9V472.49M61.30 494.9V473.86M63.12 494.9V475.86M64.93 494.9V478.67M66.75 494.9V482.33M68.57 494.9V487.77M70.38 494.9V493.87M72.20 494.9V497.90M74.01 494.9V499.13M75.83 494.9V499.82M77.64 494.9V500.27M79.46 494.9V500.33M81.28 494.9V500.37M83.09 494.9V500.41M84.91 494.9V501.29M86.72 494.9V502.57M88.54 494.9V504.99M90.35 494.9V509.13M92.17 494.9V512.38M93.99 494.9V515.11M95.80 494.9V517.41M97.62 494.9V519.66M99.43 494.9V521.84M101.25 494.9V522.29M103.06 494.9V519.67M104.88 494.9V517.13M106.69 494.9V515.32M108.51 494.9V513.86M110.33 494.9V512.41M112.14 494.9V510.96M113.96 494.9V509.51M115.77 494.9V508.55M117.59 494.9V507.82M119.40 494.9V506.53M121.22 494.9V504.71M123.04 494.9V506.49M124.85 494.9V511.55M126.67 494.9V513.97M128.48 494.9V514.43M130.30 494.9V514.28M132.11 494.9V513.96M133.93 494.9V513.52M135.75 494.9V513.06M137.56 494.9V512.55M139.38 494.9V511.98M141.19 494.9V511.25M143.01 494.9V510.47M144.82 494.9V509.23M146.64 494.9V508.00M148.46 494.9V506.69M150.27 494.9V505.39M152.09 494.9V504.54M153.90 494.9V503.81M155.72 494.9V502.86M157.53 494.9V501.77M159.35 494.9V499.91M161.17 494.9V496.08M162.98 494.9V498.64M164.80 494.9V504.13M166.61 494.9V507.31M168.43 494.9V509.56M170.24 494.9V510.10M172.06 494.9V508.82M173.88 494.9V507.00M175.69 494.9V501.69M177.51 494.9V497.10M179.32 494.9V495.30M181.14 494.9V495.20M182.95 494.9V494.29M184.77 494.9V494.13M186.59 494.9V494.13M188.40 494.9V495.20M190.22 494.9V496.18M192.03 494.9V496.82M193.85 494.9V497.27M195.66 494.9V497.45M197.48 494.9V497.16M199.30 494.9V495.71M201.11 494.9V495.70M202.93 494.9V495.82M204.74 494.9V496.27M206.56 494.9V496.81M208.37 494.9V501.57M210.19 494.9V513.11M212.01 494.9V518.74M213.82 494.9V521.98M215.64 494.9V523.80M217.45 494.9V524.42M219.27 494.9V524.93M221.08 494.9V524.92M222.90 494.9V524.74M224.72 494.9V524.52M226.53 494.9V524.30M228.35 494.9V524.14M230.16 494.9V524.00M231.98 494.9V522.68M233.79 494.9V520.87M235.61 494.9V518.61M237.43 494.9V516.20M239.24 494.9V513.33M241.06 494.9V511.16M242.87 494.9V507.20M244.69 494.9V504.89M246.50 494.9V503.41M248.32 494.9V501.46M250.14 494.9V498.22M251.95 494.9V494.44M253.77 494.9V491.22M255.58 494.9V488.93M257.40 494.9V489.23M259.21 494.9V491.52M261.03 494.9V494.24M262.85 494.9V495.76M264.66 494.9V496.97M266.48 494.9V498.21M268.29 494.9V499.57M270.11 494.9V500.39M271.92 494.9V500.61M273.74 494.9V500.85M275.56 494.9V501.14M277.37 494.9V501.31M279.19 494.9V500.80M281.00 494.9V500.29M282.82 494.9V499.93M284.63 494.9V499.57M286.45 494.9V498.50M288.26 494.9V496.00M290.08 494.9V491.77M291.90 494.9V490.19M293.71 494.9V489.63M295.53 494.9V489.36M297.34 494.9V488.64M299.16 494.9V489.01M300.97 494.9V490.69M302.79 494.9V492.26M304.61 494.9V495.20M306.42 494.9V496.65M308.24 494.9V498.14M310.05 494.9V499.50M311.87 494.9V500.41M313.68 494.9V501.27M315.50 494.9V501.99M317.32 494.9V502.43M319.13 494.9V502.61M320.95 494.9V501.91M322.76 494.9V501.02M324.58 494.9V500.29M326.39 494.9V499.75M328.21 494.9V499.57M330.03 494.9V498.66M331.84 494.9V497.30M333.66 494.9V496.10M335.47 494.9V495.20M337.29 494.9V493.31M339.10 494.9V483.81M340.92 494.9V471.52M342.74 494.9V459.32M344.55 494.9V450.58M346.37 494.9V445.05M348.18 494.9V440.63M350.00 494.9V438.51M351.81 494.9V439.16M353.63 494.9V440.38M355.45 494.9V443.01M357.26 494.9V445.45M359.08 494.9V447.49M360.89 494.9V450.52M362.71 494.9V454.09M364.52 494.9V458.44M366.34 494.9V462.92M368.16 494.9V466.55M369.97 494.9V469.58M371.79 494.9V470.29M373.60 494.9V469.75M375.42 494.9V468.75M377.23 494.9V467.54M379.05 494.9V469.30M380.87 494.9V471.41M382.68 494.9V472.55M384.50 494.9V471.34M386.31 494.9V471.81M388.13 494.9V472.33M389.94 494.9V472.81M391.76 494.9V476.33M393.58 494.9V479.60M395.39 494.9V482.62M397.21 494.9V485.65M399.02 494.9V488.09M400.84 494.9V490.11M402.65 494.9V491.79M404.47 494.9V493.28M406.29 494.9V495.29M408.10 494.9V497.35M409.92 494.9V498.19M411.73 494.9V498.82M413.55 494.9V499.00M415.36 494.9V498.89M417.18 494.9V498.44M419.00 494.9V499.30M420.81 494.9V500.66M422.63 494.9V505.49M424.44 494.9V510.34M426.26 494.9V514.69M428.07 494.9V518.15M429.89 494.9V520.21M431.71 494.9V520.60M433.52 494.9V520.60M435.34 494.9V520.16M437.15 494.9V518.10M438.97 494.9V517.10M440.78 494.9V516.30M442.60 494.9V515.93M444.42 494.9V515.55M446.23 494.9V514.65M448.05 494.9V513.66M449.86 494.9V512.48M451.68 494.9V512.38M453.49 494.9V513.11M455.31 494.9V513.61M457.12 494.9V514.01M458.94 494.9V514.01M460.76 494.9V514.53M462.57 494.9V515.89M464.39 494.9V519.13M466.20 494.9V521.73M468.02 494.9V521.37M469.83 494.9V520.93M471.65 494.9V520.21M473.47 494.9V519.73M475.28 494.9V519.55M477.10 494.9V518.61M478.91 494.9V518.33M480.73 494.9V519.24M482.54 494.9V520.47M484.36 494.9V521.83M486.18 494.9V522.07M487.99 494.9V522.29M489.81 494.9V522.11M491.62 494.9V521.90M493.44 494.9V522.35M495.25 494.9V522.32M497.07 494.9V521.41M498.89 494.9V520.50M500.70 494.9V519.59M502.52 494.9V518.68M504.33 494.9V517.68M506.15 494.9V516.23M507.96 494.9V516.61M509.78 494.9V517.28M511.60 494.9V518.19M513.41 494.9V517.45M515.23 494.9V513.92M517.04 494.9V506.65M518.86 494.9V500.46M520.67 494.9V496.91M522.49 494.9V494.10M524.31 494.9V491.37M526.12 494.9V489.58M527.94 494.9V488.12M529.75 494.9V487.35M531.57 494.9V486.22M533.38 494.9V485.01M535.20 494.9V483.80M537.02 494.9V482.59M538.83 494.9V482.32M540.65 494.9V481.75M542.46 494.9V480.75M544.28 494.9V479.40M546.09 494.9V479.16M547.91 494.9V480.06M549.73 494.9V481.09M551.54 494.9V482.01M553.36 494.9V483.22M555.17 494.9V486.05M556.99 494.9V489.98M558.80 494.9V494.26M560.62 494.9V497.64M562.44 494.9V502.16M564.25 494.9V505.89M566.07 494.9V508.07M567.88 494.9V508.95M569.70 494.9V509.13M571.51 494.9V509.42M573.33 494.9V509.87M575.15 494.9V509.73M576.96 494.9V509.28M578.78 494.9V509.25M580.59 494.9V509.25M582.41 494.9V509.25M584.22 494.9V509.25M586.04 494.9V509.25M587.86 494.9V509.94M589.67 494.9V512.21M591.49 494.9V512.96M593.30 494.9V511.62M595.12 494.9V507.74M596.93 494.9V504.70M598.75 494.9V502.92M600.57 494.9V502.42M602.38 494.9V503.30M604.20 494.9V507.48M606.01 494.9V513.54M607.83 494.9V519.59M609.64 494.9V525.64M611.46 494.9V530.88M613.28 494.9V534.46M615.09 494.9V536.88M616.91 494.9V538.40M618.72 494.9V539.48M620.54 494.9V540.39M622.35 494.9V541.16M624.17 494.9V541.89M625.99 494.9V540.73M627.80 494.9V539.74M629.62 494.9V539.29M631.43 494.9V538.59M633.25 494.9V537.69M635.06 494.9V536.78M636.88 494.9V536.02M638.70 494.9V537.23M640.51 494.9V539.85M642.33 494.9V542.87M644.14 494.9V545.68M645.96 494.9V547.50M647.77 494.9V550.38M649.59 494.9V552.45M651.40 494.9V552.46M653.22 494.9V550.86M655.04 494.9V549.65M656.85 494.9V548.01M658.67 494.9V545.96M660.48 494.9V543.60M662.30 494.9V541.78M664.11 494.9V539.97M665.93 494.9V538.46M667.75 494.9V536.86M669.56 494.9V533.84M671.38 494.9V530.81M673.19 494.9V528.16M675.01 494.9V525.93M676.82 494.9V524.16M678.64 494.9V524.16M680.46 494.9V523.91M682.27 494.9V522.70M684.09 494.9V521.49M685.90 494.9V520.28M687.72 494.9V518.85M689.53 494.9V519.73M691.35 494.9V522.22M693.17 494.9V523.83M694.98 494.9V525.02M696.80 494.9V525.63M698.61 494.9V527.31M700.43 494.9V527.97M702.24 494.9V526.93M704.06 494.9V526.21M705.88 494.9V525.38M707.69 494.9V523.99M709.51 494.9V522.18M711.32 494.9V520.36M713.14 494.9V518.55M714.95 494.9V517.13M716.77 494.9V515.92M718.59 494.9V514.98M720.40 494.9V517.52M722.22 494.9V517.49M724.03 494.9V514.43M725.85 494.9V512.22M727.66 494.9V511.01M729.48 494.9V509.80M731.30 494.9V508.59M733.11 494.9V504.86M734.93 494.9V492.52M736.74 494.9V486.25M738.56 494.9V482.06M740.37 494.9V480.26M742.19 494.9V480.20M744.01 494.9V479.59M745.82 494.9V478.79M747.64 494.9V478.01M749.45 494.9V477.33M751.27 494.9V476.85M753.08 494.9V477.32M754.90 494.9V481.51M756.72 494.9V484.22M758.53 494.9V485.46M760.35 494.9V486.11M762.16 494.9V486.82M763.98 494.9V487.79M765.79 494.9V487.43M767.61 494.9V487.07M769.43 494.9V487.58M771.24 494.9V490.49M773.06 494.9V495.60M774.87 494.9V498.89M776.69 494.9V502.38M778.50 494.9V503.03M780.32 494.9V500.45M782.14 494.9V499.91M783.95 494.9V500.52M785.77 494.9V501.40M787.58 494.9V501.48M789.40 494.9V500.63M791.21 494.9V500.38M793.03 494.9V500.04M794.85 494.9V500.09M796.66 494.9V499.71M798.48 494.9V496.69M800.29 494.9V494.01M802.11 494.9V492.22M803.92 494.9V489.80M805.74 494.9V487.96M807.56 494.9V485.50M809.37 494.9V483.02M811.19 494.9V481.33M813.00 494.9V480.77M814.82 494.9V481.33M816.63 494.9V481.92M818.45 494.9V483.23M820.27 494.9V485.40M822.08 494.9V487.05M823.90 494.9V488.16M825.71 494.9V489.74M827.53 494.9V489.99M829.34 494.9V489.75M831.16 494.9V489.02M832.97 494.9V488.33M834.79 494.9V488.05M836.61 494.9V487.45M838.42 494.9V487.75M840.24 494.9V489.00M842.05 494.9V489.69M843.87 494.9V490.39M845.68 494.9V491.16M847.50 494.9V491.94" fill="none" stroke="#6e6e6e" stroke-width="0.85"/>
<path d="M3.30 492.44C4.21 492.52 6.83 493.09 8.79 492.91C10.75 492.73 13.24 491.94 15.07 491.34C16.90 490.74 18.21 489.90 19.78 489.30C21.35 488.70 22.92 488.38 24.49 487.73C26.06 487.08 27.63 486.42 29.20 485.38C30.77 484.33 32.34 483.15 33.91 481.45C35.48 479.75 37.18 477.26 38.62 475.17C40.06 473.08 41.23 470.72 42.54 468.89C43.85 467.06 45.29 465.23 46.47 464.18C47.65 463.14 48.43 462.87 49.61 462.61C50.78 462.35 52.22 462.35 53.53 462.61C54.84 462.87 56.15 463.40 57.46 464.18C58.77 464.97 60.07 466.28 61.38 467.32C62.69 468.37 64.00 469.28 65.31 470.46C66.61 471.64 68.05 472.95 69.23 474.39C70.41 475.83 71.32 477.26 72.37 479.10C73.42 480.93 74.46 483.41 75.51 485.38C76.56 487.34 77.38 488.89 78.65 490.87C79.92 492.85 81.74 495.68 83.14 497.27C84.54 498.86 85.76 499.23 87.06 500.41C88.37 501.59 89.68 503.02 90.99 504.33C92.30 505.64 93.61 506.95 94.91 508.26C96.22 509.57 97.53 510.87 98.84 512.18C100.15 513.49 101.59 515.11 102.76 516.11C103.94 517.10 104.73 517.81 105.90 518.15C107.08 518.49 108.52 518.62 109.83 518.15C111.14 517.68 112.31 516.45 113.75 515.32C115.19 514.20 117.02 512.57 118.46 511.40C119.90 510.22 120.95 508.78 122.39 508.26C123.83 507.73 125.53 508.00 127.10 508.26C128.67 508.52 130.24 509.17 131.81 509.83C133.38 510.48 134.95 511.61 136.51 512.18C138.08 512.76 139.65 513.41 141.22 513.28C142.79 513.15 144.36 512.10 145.93 511.40C147.50 510.69 149.07 509.83 150.64 509.04C152.21 508.26 153.78 507.60 155.35 506.69C156.92 505.77 158.75 504.46 160.06 503.55C161.37 502.63 161.89 501.45 163.20 501.19C164.51 500.93 166.34 501.59 167.91 501.98C169.48 502.37 171.05 503.16 172.62 503.55C174.19 503.94 175.76 504.59 177.33 504.33C178.90 504.07 180.60 503.02 182.04 501.98C183.48 500.93 184.66 499.10 185.97 498.05C187.27 497.01 188.45 496.09 189.89 495.70C191.33 495.31 193.03 495.70 194.60 495.70C196.17 495.70 197.48 495.57 199.31 495.70C201.14 495.83 203.76 495.70 205.59 496.48C207.42 497.27 208.73 498.45 210.30 500.41C211.87 502.37 213.44 505.77 215.01 508.26C216.58 510.74 218.28 513.23 219.72 515.32C221.16 517.41 222.33 519.51 223.64 520.82C224.95 522.12 226.26 522.65 227.57 523.17C228.87 523.69 230.18 524.09 231.49 523.96C232.80 523.83 234.00 523.04 235.42 522.39C236.83 521.73 238.78 520.97 239.97 520.03C241.16 519.10 241.47 517.97 242.56 516.77C243.64 515.58 245.18 514.29 246.48 512.85C247.79 511.41 249.23 509.71 250.41 508.14C251.59 506.57 252.50 505.00 253.55 503.43C254.59 501.86 255.64 500.03 256.69 498.72C257.73 497.41 258.78 496.44 259.83 495.58C260.87 494.72 261.79 493.88 262.97 493.54C264.14 493.20 265.58 493.20 266.89 493.54C268.20 493.88 269.38 494.64 270.82 495.58C272.26 496.52 273.96 498.35 275.53 499.19C277.10 500.03 278.67 500.42 280.24 500.60C281.81 500.79 283.38 500.60 284.95 500.29C286.51 499.97 288.08 499.50 289.65 498.72C291.22 497.93 292.93 496.63 294.36 495.58C295.80 494.53 296.98 493.22 298.29 492.44C299.60 491.65 301.04 491.21 302.21 490.87C303.39 490.53 304.31 490.27 305.35 490.40C306.40 490.53 307.32 490.92 308.49 491.65C309.67 492.39 311.11 493.75 312.42 494.79C313.73 495.84 315.03 497.02 316.34 497.93C317.65 498.85 318.96 499.77 320.27 500.29C321.58 500.81 322.75 500.94 324.19 501.07C325.63 501.20 327.46 501.28 328.90 501.07C330.34 500.86 331.52 500.47 332.83 499.82C334.13 499.16 335.57 498.12 336.75 497.15C337.93 496.18 338.97 495.19 339.89 494.01C340.81 492.83 341.46 492.05 342.24 490.08C343.03 488.12 343.81 484.98 344.60 482.24C345.38 479.49 346.17 476.35 346.95 473.60C347.74 470.85 348.52 468.37 349.31 465.75C350.09 463.14 350.88 460.39 351.66 457.90C352.45 455.42 353.23 452.80 354.02 450.84C354.80 448.88 355.59 447.31 356.37 446.13C357.16 444.95 357.81 444.17 358.73 443.77C359.64 443.38 360.82 443.25 361.87 443.77C362.91 444.30 363.96 445.47 365.01 446.91C366.05 448.35 367.10 450.58 368.15 452.41C369.19 454.24 370.24 456.20 371.29 457.90C372.33 459.60 373.25 461.17 374.43 462.61C375.60 464.05 377.04 465.41 378.35 466.54C379.66 467.66 380.97 468.71 382.28 469.36C383.58 470.02 384.92 470.15 386.20 470.46C387.48 470.78 388.65 470.53 389.97 471.25C391.29 471.96 392.65 473.52 394.13 474.76C395.61 476.00 397.27 477.12 398.84 478.69C400.41 480.26 401.98 482.35 403.55 484.18C405.12 486.01 406.69 488.11 408.26 489.68C409.83 491.25 411.40 492.42 412.97 493.60C414.54 494.78 416.11 495.69 417.68 496.74C419.25 497.79 420.82 498.44 422.39 499.88C423.96 501.32 425.53 503.54 427.10 505.38C428.67 507.21 430.24 509.04 431.81 510.87C433.38 512.70 435.08 515.06 436.51 516.36C437.95 517.67 439.13 518.33 440.44 518.72C441.75 519.11 443.06 518.98 444.36 518.72C445.67 518.46 446.98 517.80 448.29 517.15C449.60 516.50 450.77 515.45 452.21 514.79C453.65 514.14 455.35 513.36 456.92 513.22C458.49 513.09 460.06 513.49 461.63 514.01C463.20 514.53 464.77 515.58 466.34 516.36C467.91 517.15 469.48 518.14 471.05 518.72C472.62 519.29 474.19 519.56 475.76 519.82C477.33 520.08 478.90 520.16 480.47 520.29C482.04 520.42 483.61 520.52 485.18 520.60C486.75 520.68 488.32 520.55 489.89 520.76C491.46 520.97 493.03 521.81 494.60 521.86C496.17 521.91 497.74 521.41 499.31 521.07C500.88 520.73 502.45 520.21 504.02 519.82C505.59 519.43 507.16 519.09 508.73 518.72C510.30 518.35 511.87 518.27 513.44 517.62C515.01 516.97 516.58 516.31 518.15 514.79C519.72 513.28 521.29 511.00 522.86 508.51C524.43 506.03 526.38 502.11 527.57 499.88C528.76 497.65 528.94 496.57 530.00 495.12C531.06 493.67 532.62 492.50 533.92 491.19C535.23 489.88 536.54 488.45 537.85 487.27C539.16 486.09 540.47 484.97 541.77 484.13C543.08 483.29 544.39 482.72 545.70 482.24C547.01 481.77 548.32 481.46 549.62 481.30C550.93 481.15 552.24 481.09 553.55 481.30C554.86 481.51 556.30 481.83 557.47 482.56C558.65 483.29 559.57 484.39 560.61 485.70C561.66 487.01 562.71 488.71 563.75 490.41C564.80 492.11 565.85 494.07 566.89 495.90C567.94 497.73 568.98 499.83 570.03 501.40C571.08 502.97 571.99 504.14 573.17 505.32C574.35 506.50 575.79 507.81 577.10 508.46C578.40 509.12 579.58 509.12 581.02 509.25C582.46 509.38 584.16 509.12 585.73 509.25C587.30 509.38 588.87 509.82 590.44 510.03C592.01 510.24 593.58 510.76 595.15 510.50C596.72 510.24 598.42 508.98 599.86 508.46C601.30 507.94 602.48 507.49 603.78 507.36C605.09 507.23 606.53 507.10 607.71 507.68C608.89 508.25 609.80 509.25 610.85 510.82C611.89 512.39 612.94 514.87 613.99 517.10C615.03 519.32 616.08 521.94 617.13 524.16C618.17 526.38 619.22 528.61 620.27 530.44C621.31 532.27 622.36 533.84 623.41 535.15C624.45 536.46 625.37 537.50 626.55 538.29C627.72 539.07 629.16 539.60 630.47 539.86C631.78 540.12 633.09 539.99 634.40 539.86C635.70 539.73 637.01 539.26 638.32 539.07C639.63 538.89 641.07 538.50 642.24 538.76C643.42 539.02 644.21 539.81 645.38 540.64C646.56 541.48 648.00 542.74 649.31 543.78C650.62 544.83 651.93 546.01 653.23 546.92C654.54 547.84 655.85 548.96 657.16 549.28C658.47 549.59 659.77 549.20 661.08 548.81C662.39 548.41 663.70 547.89 665.01 546.92C666.32 545.95 667.62 544.44 668.93 543.00C670.24 541.56 671.55 539.86 672.86 538.29C674.17 536.72 675.59 535.01 676.78 533.58C677.97 532.15 678.81 530.88 680.00 529.71C681.19 528.54 682.62 527.61 683.92 526.57C685.23 525.52 686.54 524.34 687.85 523.43C689.16 522.51 690.47 521.47 691.77 521.07C693.08 520.68 694.39 520.86 695.70 521.07C697.01 521.28 698.32 521.81 699.62 522.33C700.93 522.85 702.24 523.69 703.55 524.21C704.86 524.74 706.16 525.34 707.47 525.47C708.78 525.60 710.09 525.47 711.40 525.00C712.71 524.53 714.01 523.51 715.32 522.64C716.63 521.78 717.94 520.73 719.25 519.82C720.55 518.90 721.86 517.86 723.17 517.15C724.48 516.44 725.79 516.10 727.10 515.58C728.40 515.06 729.84 514.79 731.02 514.01C732.20 513.22 733.11 512.44 734.16 510.87C735.21 509.30 736.25 506.81 737.30 504.59C738.35 502.37 739.52 499.49 740.44 497.53C741.36 495.56 742.01 494.39 742.79 492.82C743.58 491.25 744.36 489.55 745.15 488.11C745.93 486.67 746.72 485.36 747.50 484.18C748.29 483.00 749.07 481.75 749.86 481.04C750.64 480.34 751.30 480.21 752.21 479.94C753.13 479.68 754.18 479.37 755.35 479.47C756.53 479.58 757.97 480.05 759.28 480.57C760.59 481.09 761.89 481.88 763.20 482.61C764.51 483.34 765.82 484.18 767.13 484.97C768.44 485.75 769.74 486.41 771.05 487.32C772.36 488.24 773.67 489.41 774.98 490.46C776.28 491.51 777.72 492.55 778.90 493.60C780.08 494.65 780.99 495.69 782.04 496.74C783.09 497.79 784.13 499.10 785.18 499.88C786.23 500.67 787.14 501.19 788.32 501.45C789.50 501.71 790.94 501.58 792.24 501.45C793.55 501.32 794.86 501.06 796.17 500.67C797.48 500.27 798.79 499.75 800.09 499.10C801.40 498.44 802.71 497.66 804.02 496.74C805.33 495.83 806.77 494.65 807.94 493.60C809.12 492.55 810.04 491.51 811.08 490.46C812.13 489.41 813.18 488.29 814.22 487.32C815.27 486.35 816.32 485.31 817.36 484.65C818.41 484.00 819.46 483.55 820.50 483.40C821.55 483.24 822.60 483.40 823.64 483.71C824.69 484.03 825.74 484.76 826.78 485.28C827.83 485.80 828.87 486.38 829.92 486.85C830.97 487.32 831.88 487.85 833.06 488.11C834.24 488.37 835.83 488.29 836.99 488.42C838.14 488.55 838.27 488.60 839.97 488.89C841.67 489.18 845.99 489.94 847.19 490.15" fill="none" stroke="#ff0000" stroke-width="0.65" stroke-opacity="0.8" stroke-dasharray="1.2 1.5"/>
<path d="M867.53 355.90L878.83 331.81L879.93 332.29L879.70 327.60L876.09 330.60L877.19 331.08L867.07 355.70Z" fill="#808080"/>
<path d="M879.93 327.70L889.87 306.12L890.98 306.59L890.70 301.90L887.12 304.93L888.22 305.41L879.47 327.50Z" fill="#808080"/>
<path d="M867.10 356.34L887.03 385.50L886.05 386.19L890.20 388.40L889.48 383.76L888.50 384.46L867.50 356.06Z" fill="#808080"/>
<path d="M889.99 388.54L910.56 421.47L909.55 422.12L913.60 424.50L913.08 419.83L912.07 420.49L890.41 388.26Z" fill="#808080"/>
<rect x="0" y="0" width="1024" height="0.95" fill="#b6b6b6"/>
<rect x="1.4" y="0.95" width="989.5" height="0.7" fill="#8c8c8c"/>
<rect x="2.6" y="1.65" width="987.5" height="0.5" fill="#fbfdff"/>
<rect x="0" y="0" width="1.4" height="573" fill="#9a9a9a"/>
<rect x="1.4" y="1.6" width="1.2" height="573" fill="#c6c6c6"/>
<rect x="0" y="571.9" width="1024" height="1.1" fill="#8c8c8c"/>
<path d="M847.8 1.7 L854.6 1.7 L851.2 5.2 Z" fill="#b0b0b0"/>
<line x1="990.5" y1="1" x2="990.5" y2="559.5" stroke="#555" stroke-width="0.9"/>
<line x1="2" y1="559.4" x2="990.9" y2="559.4" stroke="#555" stroke-width="0.9"/>
<line x1="2" y1="432" x2="990.5" y2="432" stroke="#666" stroke-width="1.5"/>
<line x1="990.5" y1="2.60" x2="992.1" y2="2.60" stroke="#555" stroke-width="0.6"/>
<text x="994" y="5.40" font-family="Liberation Sans, Arial, sans-serif" font-size="6.5" fill="#1a1a1a" stroke="#1a1a1a" stroke-width="0.12" text-anchor="start" textLength="23" lengthAdjust="spacingAndGlyphs">1.24865</text>
<line x1="990.5" y1="32.12" x2="992.1" y2="32.12" stroke="#555" stroke-width="0.6"/>
<text x="994" y="34.92" font-family="Liberation Sans, Arial, sans-serif" font-size="6.5" fill="#1a1a1a" stroke="#1a1a1a" stroke-width="0.12" text-anchor="start" textLength="23" lengthAdjust="spacingAndGlyphs">1.24260</text>
<line x1="990.5" y1="61.64" x2="992.1" y2="61.64" stroke="#555" stroke-width="0.6"/>
<text x="994" y="64.44" font-family="Liberation Sans, Arial, sans-serif" font-size="6.5" fill="#1a1a1a" stroke="#1a1a1a" stroke-width="0.12" text-anchor="start" textLength="23" lengthAdjust="spacingAndGlyphs">1.23655</text>
<line x1="990.5" y1="91.17" x2="992.1" y2="91.17" stroke="#555" stroke-width="0.6"/>
<text x="994" y="93.97" font-family="Liberation Sans, Arial, sans-serif" font-size="6.5" fill="#1a1a1a" stroke="#1a1a1a" stroke-width="0.12" text-anchor="start" textLength="23" lengthAdjust="spacingAndGlyphs">1.23050</text>
<line x1="990.5" y1="120.69" x2="992.1" y2="120.69" stroke="#555" stroke-width="0.6"/>
<text x="994" y="123.49" font-family="Liberation Sans, Arial, sans-serif" font-size="6.5" fill="#1a1a1a" stroke="#1a1a1a" stroke-width="0.12" text-anchor="start" textLength="23" lengthAdjust="spacingAndGlyphs">1.22445</text>
<line x1="990.5" y1="149.97" x2="992.1" y2="149.97" stroke="#555" stroke-width="0.6"/>
<text x="994" y="152.77" font-family="Liberation Sans, Arial, sans-serif" font-size="6.5" fill="#1a1a1a" stroke="#1a1a1a" stroke-width="0.12" text-anchor="start" textLength="23" lengthAdjust="spacingAndGlyphs">1.21845</text>
<line x1="990.5" y1="179.49" x2="992.1" y2="179.49" stroke="#555" stroke-width="0.6"/>
<text x="994" y="182.29" font-family="Liberation Sans, Arial, sans-serif" font-size="6.5" fill="#1a1a1a" stroke="#1a1a1a" stroke-width="0.12" text-anchor="start" textLength="23" lengthAdjust="spacingAndGlyphs">1.21240</text>
<line x1="990.5" y1="209.01" x2="992.1" y2="209.01" stroke="#555" stroke-width="0.6"/>
<text x="994" y="211.81" font-family="Liberation Sans, Arial, sans-serif" font-size="6.5" fill="#1a1a1a" stroke="#1a1a1a" stroke-width="0.12" text-anchor="start" textLength="23" lengthAdjust="spacingAndGlyphs">1.20635</text>
<line x1="990.5" y1="238.53" x2="992.1" y2="238.53" stroke="#555" stroke-width="0.6"/>
<text x="994" y="241.33" font-family="Liberation Sans, Arial, sans-serif" font-size="6.5" fill="#1a1a1a" stroke="#1a1a1a" stroke-width="0.12" text-anchor="start" textLength="23" lengthAdjust="spacingAndGlyphs">1.20030</text>
<line x1="990.5" y1="267.81" x2="992.1" y2="267.81" stroke="#555" stroke-width="0.6"/>
<text x="994" y="270.61" font-family="Liberation Sans, Arial, sans-serif" font-size="6.5" fill="#1a1a1a" stroke="#1a1a1a" stroke-width="0.12" text-anchor="start" textLength="23" lengthAdjust="spacingAndGlyphs">1.19430</text>
<line x1="990.5" y1="297.33" x2="992.1" y2="297.33" stroke="#555" stroke-width="0.6"/>
<text x="994" y="300.13" font-family="Liberation Sans, Arial, sans-serif" font-size="6.5" fill="#1a1a1a" stroke="#1a1a1a" stroke-width="0.12" text-anchor="start" textLength="23" lengthAdjust="spacingAndGlyphs">1.18825</text>
<line x1="990.5" y1="326.85" x2="992.1" y2="326.85" stroke="#555" stroke-width="0.6"/>
<text x="994" y="329.65" font-family="Liberation Sans, Arial, sans-serif" font-size="6.5" fill="#1a1a1a" stroke="#1a1a1a" stroke-width="0.12" text-anchor="start" textLength="23" lengthAdjust="spacingAndGlyphs">1.18220</text>
<line x1="990.5" y1="356.38" x2="992.1" y2="356.38" stroke="#555" stroke-width="0.6"/>
<text x="994" y="359.18" font-family="Liberation Sans, Arial, sans-serif" font-size="6.5" fill="#1a1a1a" stroke="#1a1a1a" stroke-width="0.12" text-anchor="start" textLength="23" lengthAdjust="spacingAndGlyphs">1.17615</text>
<line x1="990.5" y1="385.90" x2="992.1" y2="385.90" stroke="#555" stroke-width="0.6"/>
<text x="994" y="388.70" font-family="Liberation Sans, Arial, sans-serif" font-size="6.5" fill="#1a1a1a" stroke="#1a1a1a" stroke-width="0.12" text-anchor="start" textLength="23" lengthAdjust="spacingAndGlyphs">1.17010</text>
<line x1="990.5" y1="415.18" x2="992.1" y2="415.18" stroke="#555" stroke-width="0.6"/>
<text x="994" y="417.98" font-family="Liberation Sans, Arial, sans-serif" font-size="6.5" fill="#1a1a1a" stroke="#1a1a1a" stroke-width="0.12" text-anchor="start" textLength="23" lengthAdjust="spacingAndGlyphs">1.16410</text>
<rect x="991.2" y="323.74" width="28.2" height="7.4" fill="#000"/>
<text x="994" y="330.34" font-family="Liberation Sans, Arial, sans-serif" font-size="6.5" fill="#fff" stroke="#fff" stroke-width="0.12" text-anchor="start" textLength="23" lengthAdjust="spacingAndGlyphs">1.18210</text>
<rect x="991.2" y="3.50" width="28.2" height="7.7" fill="#ff0000"/>
<text x="994" y="10.00" font-family="Liberation Sans, Arial, sans-serif" font-size="6.5" fill="#fff" stroke="#fff" stroke-width="0.12" text-anchor="start" textLength="23" lengthAdjust="spacingAndGlyphs">1.24783</text>
<rect x="991.2" y="89.50" width="28.2" height="7.7" fill="#ff0000"/>
<text x="994" y="96.00" font-family="Liberation Sans, Arial, sans-serif" font-size="6.5" fill="#fff" stroke="#fff" stroke-width="0.12" text-anchor="start" textLength="23" lengthAdjust="spacingAndGlyphs">1.23017</text>
<rect x="991.2" y="117.80" width="28.2" height="7.7" fill="#ff0000"/>
<text x="994" y="124.30" font-family="Liberation Sans, Arial, sans-serif" font-size="6.5" fill="#fff" stroke="#fff" stroke-width="0.12" text-anchor="start" textLength="23" lengthAdjust="spacingAndGlyphs">1.22439</text>
<rect x="991.2" y="185.00" width="28.2" height="7.7" fill="#ff0000"/>
<text x="994" y="191.50" font-family="Liberation Sans, Arial, sans-serif" font-size="6.5" fill="#fff" stroke="#fff" stroke-width="0.12" text-anchor="start" textLength="23" lengthAdjust="spacingAndGlyphs">1.21067</text>
<rect x="991.2" y="209.50" width="28.2" height="7.7" fill="#ff0000"/>
<text x="994" y="216.00" font-family="Liberation Sans, Arial, sans-serif" font-size="6.5" fill="#fff" stroke="#fff" stroke-width="0.12" text-anchor="start" textLength="23" lengthAdjust="spacingAndGlyphs">1.20560</text>
<rect x="991.2" y="234.00" width="28.2" height="7.7" fill="#0000ff"/>
<text x="994" y="240.50" font-family="Liberation Sans, Arial, sans-serif" font-size="6.5" fill="#fff" stroke="#fff" stroke-width="0.12" text-anchor="start" textLength="23" lengthAdjust="spacingAndGlyphs">1.20059</text>
<rect x="991.2" y="251.50" width="28.2" height="7.7" fill="#ff0000"/>
<text x="994" y="258.00" font-family="Liberation Sans, Arial, sans-serif" font-size="6.5" fill="#fff" stroke="#fff" stroke-width="0.12" text-anchor="start" textLength="23" lengthAdjust="spacingAndGlyphs">1.19706</text>
<rect x="991.2" y="278.00" width="28.2" height="7.7" fill="#ff0000"/>
<text x="994" y="284.50" font-family="Liberation Sans, Arial, sans-serif" font-size="6.5" fill="#fff" stroke="#fff" stroke-width="0.12" text-anchor="start" textLength="23" lengthAdjust="spacingAndGlyphs">1.19163</text>
<rect x="991.2" y="300.50" width="28.2" height="7.7" fill="#0000ff"/>
<text x="994" y="307.00" font-family="Liberation Sans, Arial, sans-serif" font-size="6.5" fill="#fff" stroke="#fff" stroke-width="0.12" text-anchor="start" textLength="23" lengthAdjust="spacingAndGlyphs">1.18709</text>
<rect x="991.2" y="308.80" width="28.2" height="7.7" fill="#ff0000"/>
<text x="994" y="315.30" font-family="Liberation Sans, Arial, sans-serif" font-size="6.5" fill="#fff" stroke="#fff" stroke-width="0.12" text-anchor="start" textLength="23" lengthAdjust="spacingAndGlyphs">1.18533</text>
<rect x="991.2" y="324.50" width="28.2" height="7.7" fill="#0000ff"/>
<text x="994" y="331.00" font-family="Liberation Sans, Arial, sans-serif" font-size="6.5" fill="#fff" stroke="#fff" stroke-width="0.12" text-anchor="start" textLength="23" lengthAdjust="spacingAndGlyphs">1.18207</text>
<rect x="991.2" y="336.45" width="28.2" height="7.7" fill="#0000ff"/>
<text x="994" y="342.95" font-family="Liberation Sans, Arial, sans-serif" font-size="6.5" fill="#fff" stroke="#fff" stroke-width="0.12" text-anchor="start" textLength="23" lengthAdjust="spacingAndGlyphs">1.17959</text>
<rect x="991.2" y="352.50" width="28.2" height="7.7" fill="#ff0000"/>
<text x="994" y="359.00" font-family="Liberation Sans, Arial, sans-serif" font-size="6.5" fill="#fff" stroke="#fff" stroke-width="0.12" text-anchor="start" textLength="23" lengthAdjust="spacingAndGlyphs">1.17641</text>
<rect x="991.2" y="367.50" width="28.2" height="7.7" fill="#0000ff"/>
<text x="994" y="374.00" font-family="Liberation Sans, Arial, sans-serif" font-size="6.5" fill="#fff" stroke="#fff" stroke-width="0.12" text-anchor="start" textLength="23" lengthAdjust="spacingAndGlyphs">1.17332</text>
<rect x="991.2" y="385.50" width="28.2" height="7.7" fill="#0000ff"/>
<text x="994" y="392.00" font-family="Liberation Sans, Arial, sans-serif" font-size="6.5" fill="#fff" stroke="#fff" stroke-width="0.12" text-anchor="start" textLength="23" lengthAdjust="spacingAndGlyphs">1.16961</text>
<rect x="991.2" y="421.40" width="28.2" height="7.7" fill="#ff0000"/>
<text x="994" y="427.90" font-family="Liberation Sans, Arial, sans-serif" font-size="6.5" fill="#fff" stroke="#fff" stroke-width="0.12" text-anchor="start" textLength="23" lengthAdjust="spacingAndGlyphs">1.16223</text>
<text x="992.4" y="439.20" font-family="Liberation Sans, Arial, sans-serif" font-size="6.5" fill="#1a1a1a" stroke="#1a1a1a" stroke-width="0.12" text-anchor="start" textLength="26.7" lengthAdjust="spacingAndGlyphs">0.004738</text>
<text x="992.4" y="497.50" font-family="Liberation Sans, Arial, sans-serif" font-size="6.5" fill="#1a1a1a" stroke="#1a1a1a" stroke-width="0.12" text-anchor="start" textLength="12.4" lengthAdjust="spacingAndGlyphs">0.00</text>
<text x="992.4" y="557.80" font-family="Liberation Sans, Arial, sans-serif" font-size="6.5" fill="#1a1a1a" stroke="#1a1a1a" stroke-width="0.12" text-anchor="start" textLength="28.6" lengthAdjust="spacingAndGlyphs">-0.004889</text>
<line x1="990.5" y1="495.3" x2="992.1" y2="495.3" stroke="#555" stroke-width="0.6"/>
<text x="4.2" y="440.20" font-family="Liberation Sans, Arial, sans-serif" font-size="6.5" fill="#1a1a1a" stroke="#1a1a1a" stroke-width="0.12" text-anchor="start" textLength="101" lengthAdjust="spacingAndGlyphs">MACD(12,26,9) 0.000178 0.000371</text>
<line x1="2.50" y1="559.4" x2="2.50" y2="561" stroke="#555" stroke-width="0.6"/>
<text x="2.1" y="567.70" font-family="Liberation Sans, Arial, sans-serif" font-size="6.45" fill="#1a1a1a" stroke="#1a1a1a" stroke-width="0.12" text-anchor="start">29 Jul 2022</text>
<line x1="60.60" y1="559.4" x2="60.60" y2="561" stroke="#555" stroke-width="0.6"/>
<text x="60.2" y="567.70" font-family="Liberation Sans, Arial, sans-serif" font-size="6.45" fill="#1a1a1a" stroke="#1a1a1a" stroke-width="0.12" text-anchor="start">2 Aug 05:00</text>
<line x1="118.70" y1="559.4" x2="118.70" y2="561" stroke="#555" stroke-width="0.6"/>
<text x="118.3" y="567.70" font-family="Liberation Sans, Arial, sans-serif" font-size="6.45" fill="#1a1a1a" stroke="#1a1a1a" stroke-width="0.12" text-anchor="start">3 Aug 13:00</text>
<line x1="176.80" y1="559.4" x2="176.80" y2="561" stroke="#555" stroke-width="0.6"/>
<text x="176.4" y="567.70" font-family="Liberation Sans, Arial, sans-serif" font-size="6.45" fill="#1a1a1a" stroke="#1a1a1a" stroke-width="0.12" text-anchor="start">4 Aug 21:00</text>
<line x1="234.90" y1="559.4" x2="234.90" y2="561" stroke="#555" stroke-width="0.6"/>
<text x="234.5" y="567.70" font-family="Liberation Sans, Arial, sans-serif" font-size="6.45" fill="#1a1a1a" stroke="#1a1a1a" stroke-width="0.12" text-anchor="start">8 Aug 05:00</text>
<line x1="293.00" y1="559.4" x2="293.00" y2="561" stroke="#555" stroke-width="0.6"/>
<text x="292.6" y="567.70" font-family="Liberation Sans, Arial, sans-serif" font-size="6.45" fill="#1a1a1a" stroke="#1a1a1a" stroke-width="0.12" text-anchor="start">9 Aug 13:00</text>
<line x1="351.10" y1="559.4" x2="351.10" y2="561" stroke="#555" stroke-width="0.6"/>
<text x="350.70000000000005" y="567.70" font-family="Liberation Sans, Arial, sans-serif" font-size="6.45" fill="#1a1a1a" stroke="#1a1a1a" stroke-width="0.12" text-anchor="start">10 Aug 21:00</text>
<line x1="409.20" y1="559.4" x2="409.20" y2="561" stroke="#555" stroke-width="0.6"/>
<text x="408.8" y="567.70" font-family="Liberation Sans, Arial, sans-serif" font-size="6.45" fill="#1a1a1a" stroke="#1a1a1a" stroke-width="0.12" text-anchor="start">12 Aug 05:00</text>
<line x1="467.30" y1="559.4" x2="467.30" y2="561" stroke="#555" stroke-width="0.6"/>
<text x="466.90000000000003" y="567.70" font-family="Liberation Sans, Arial, sans-serif" font-size="6.45" fill="#1a1a1a" stroke="#1a1a1a" stroke-width="0.12" text-anchor="start">15 Aug 13:00</text>
<line x1="525.40" y1="559.4" x2="525.40" y2="561" stroke="#555" stroke-width="0.6"/>
<text x="525.0" y="567.70" font-family="Liberation Sans, Arial, sans-serif" font-size="6.45" fill="#1a1a1a" stroke="#1a1a1a" stroke-width="0.12" text-anchor="start">16 Aug 21:00</text>
<line x1="583.50" y1="559.4" x2="583.50" y2="561" stroke="#555" stroke-width="0.6"/>
<text x="583.1" y="567.70" font-family="Liberation Sans, Arial, sans-serif" font-size="6.45" fill="#1a1a1a" stroke="#1a1a1a" stroke-width="0.12" text-anchor="start">18 Aug 05:00</text>
<line x1="641.60" y1="559.4" x2="641.60" y2="561" stroke="#555" stroke-width="0.6"/>
<text x="641.2" y="567.70" font-family="Liberation Sans, Arial, sans-serif" font-size="6.45" fill="#1a1a1a" stroke="#1a1a1a" stroke-width="0.12" text-anchor="start">19 Aug 13:00</text>
<line x1="699.70" y1="559.4" x2="699.70" y2="561" stroke="#555" stroke-width="0.6"/>
<text x="699.3000000000001" y="567.70" font-family="Liberation Sans, Arial, sans-serif" font-size="6.45" fill="#1a1a1a" stroke="#1a1a1a" stroke-width="0.12" text-anchor="start">22 Aug 21:00</text>
<line x1="757.80" y1="559.4" x2="757.80" y2="561" stroke="#555" stroke-width="0.6"/>
<text x="757.4000000000001" y="567.70" font-family="Liberation Sans, Arial, sans-serif" font-size="6.45" fill="#1a1a1a" stroke="#1a1a1a" stroke-width="0.12" text-anchor="start">24 Aug 05:00</text>
<line x1="815.90" y1="559.4" x2="815.90" y2="561" stroke="#555" stroke-width="0.6"/>
<text x="815.5" y="567.70" font-family="Liberation Sans, Arial, sans-serif" font-size="6.45" fill="#1a1a1a" stroke="#1a1a1a" stroke-width="0.12" text-anchor="start">25 Aug 13:00</text>
</svg>
</body></html>
